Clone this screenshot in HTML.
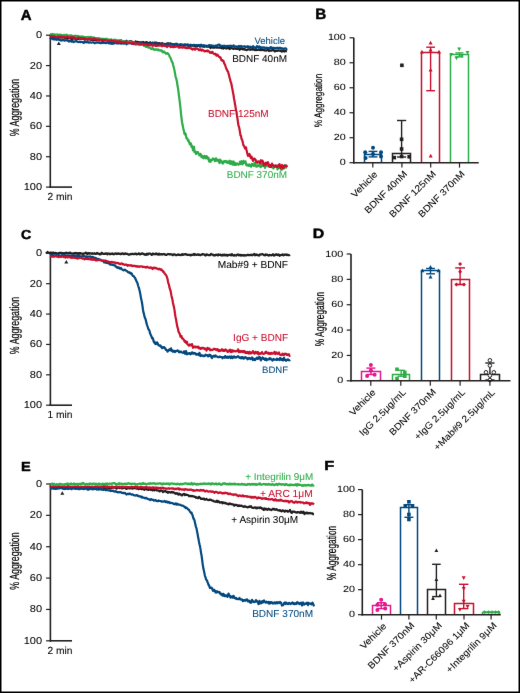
<!DOCTYPE html><html><head><meta charset="utf-8"><style>html,body{margin:0;padding:0;background:#fff;}svg{display:block;will-change:transform;}text{font-family:"Liberation Sans", sans-serif;text-rendering:geometricPrecision;}</style></head><body>
<svg width="520" height="693" viewBox="0 0 520 693">
<defs><filter id="bl" x="0" y="0" width="520" height="693" filterUnits="userSpaceOnUse" color-interpolation-filters="sRGB"><feConvolveMatrix order="3" kernelMatrix="0.00276 0.04704 0.00276 0.04704 0.80077 0.04704 0.00276 0.04704 0.00276" edgeMode="none"/></filter></defs>
<rect x="0" y="0" width="520" height="693" fill="#fff"/>
<g filter="url(#bl)">
<text transform="translate(20.8 20.3) scale(1.0179 1)" font-size="14.72" font-weight="bold" fill="#000" stroke="#000" stroke-width="0.45">A</text>
<line x1="50.3" y1="34.45" x2="50.3" y2="187.85" stroke="#231f20" stroke-width="1.6"/>
<line x1="46" y1="35.2" x2="50.3" y2="35.2" stroke="#231f20" stroke-width="1.2"/>
<text transform="translate(35.9 38.2) scale(1.100 1)" x="0" font-size="10.03" fill="#000" stroke="#000" stroke-width="0.06">0</text>
<line x1="46" y1="65.58" x2="50.3" y2="65.58" stroke="#231f20" stroke-width="1.2"/>
<text transform="translate(29.76 68.58) scale(1.100 1)" x="0" font-size="10.03" fill="#000" stroke="#000" stroke-width="0.06">20</text>
<line x1="46" y1="95.96" x2="50.3" y2="95.96" stroke="#231f20" stroke-width="1.2"/>
<text transform="translate(29.76 98.96) scale(1.100 1)" x="0" font-size="10.03" fill="#000" stroke="#000" stroke-width="0.06">40</text>
<line x1="46" y1="126.34" x2="50.3" y2="126.34" stroke="#231f20" stroke-width="1.2"/>
<text transform="translate(29.76 129.34) scale(1.100 1)" x="0" font-size="10.03" fill="#000" stroke="#000" stroke-width="0.06">60</text>
<line x1="46" y1="156.72" x2="50.3" y2="156.72" stroke="#231f20" stroke-width="1.2"/>
<text transform="translate(29.76 159.72) scale(1.100 1)" x="0" font-size="10.03" fill="#000" stroke="#000" stroke-width="0.06">80</text>
<line x1="46" y1="187.1" x2="50.3" y2="187.1" stroke="#231f20" stroke-width="1.2"/>
<text transform="translate(23.63 190.1) scale(1.100 1)" x="0" font-size="10.03" fill="#000" stroke="#000" stroke-width="0.06">100</text>
<line x1="49.5" y1="187.1" x2="72" y2="187.1" stroke="#231f20" stroke-width="1.6"/>
<text transform="translate(47.47 199.8) scale(1.0000 1)" font-size="10.23" fill="#000" stroke="#000" stroke-width="0.06">2 min</text>
<text transform="translate(19 135.95) rotate(-90) scale(0.6696 1)" x="-0.47" font-size="13.2" fill="#000" stroke="#000" stroke-width="0.2">% Aggregation</text>
<path d="M50.0 36.85 50.5 36.82 51.0 36.43 51.5 37.37 52.0 36.56 52.5 36.76 53.0 37.21 53.5 36.74 54.0 36.72 54.5 36.92 55.0 37.61 55.5 38.19 56.0 37.47 56.5 37.05 57.0 37.49 57.5 37.29 58.0 37.53 58.5 37.88 59.0 37.38 59.5 37.47 60.0 37.30 60.5 37.55 61.0 37.68 61.5 37.36 62.0 37.53 62.5 37.61 63.0 37.47 63.5 37.26 64.0 37.26 64.5 37.71 65.0 37.98 65.5 38.53 66.0 37.31 66.5 37.90 67.0 38.28 67.5 38.61 68.0 38.32 68.5 37.88 69.0 38.14 69.5 38.36 70.0 38.21 70.5 38.36 71.0 37.82 71.5 38.89 72.0 38.96 72.5 38.41 73.0 38.60 73.5 38.44 74.0 38.19 74.5 38.54 75.0 38.85 75.5 38.47 76.0 38.42 76.5 38.59 77.0 38.89 77.5 39.11 78.0 38.62 78.5 38.88 79.0 38.74 79.5 38.13 80.0 38.53 80.5 38.77 81.0 38.88 81.5 38.87 82.0 38.26 82.5 38.79 83.0 38.66 83.5 38.52 84.0 39.19 84.5 39.34 85.0 39.01 85.5 39.37 86.0 39.12 86.5 39.12 87.0 38.98 87.5 39.54 88.0 38.48 88.5 39.15 89.0 39.44 89.5 38.71 90.0 39.19 90.5 39.47 91.0 39.85 91.5 39.97 92.0 39.38 92.5 39.15 93.0 40.06 93.5 40.12 94.0 39.61 94.5 39.80 95.0 39.91 95.5 39.98 96.0 39.99 96.5 40.17 97.0 39.40 97.5 40.12 98.0 40.08 98.5 39.95 99.0 40.16 99.5 39.33 100.0 40.26 100.5 40.17 101.0 39.72 101.5 40.13 102.0 40.24 102.5 41.16 103.0 41.04 103.5 40.44 104.0 39.97 104.5 39.97 105.0 40.09 105.5 40.03 106.0 39.94 106.5 40.07 107.0 40.22 107.5 40.17 108.0 40.10 108.5 40.29 109.0 41.22 109.5 40.13 110.0 40.13 110.5 40.64 111.0 40.57 111.5 40.83 112.0 41.08 112.5 41.26 113.0 41.01 113.5 40.55 114.0 40.96 114.5 40.26 115.0 40.63 115.5 40.60 116.0 40.52 116.5 41.03 117.0 41.00 117.5 41.20 118.0 40.62 118.5 41.25 119.0 41.30 119.5 41.05 120.0 40.60 120.5 40.82 121.0 40.44 121.5 40.59 122.0 42.28 122.5 41.96 123.0 41.93 123.5 41.33 124.0 41.58 124.5 41.69 125.0 41.64 125.5 41.43 126.0 41.19 126.5 40.76 127.0 41.57 127.5 41.79 128.0 41.94 128.5 41.68 129.0 42.15 129.5 41.50 130.0 41.24 130.5 41.87 131.0 41.51 131.5 41.26 132.0 41.76 132.5 42.07 133.0 41.99 133.5 42.34 134.0 43.40 134.5 42.60 135.0 42.37 135.5 41.40 136.0 42.01 136.5 42.28 137.0 41.90 137.5 41.76 138.0 42.14 138.5 41.99 139.0 42.00 139.5 42.63 140.0 42.78 140.5 42.40 141.0 42.16 141.5 42.50 142.0 42.70 142.5 42.52 143.0 41.89 143.5 42.21 144.0 42.58 144.5 42.78 145.0 42.94 145.5 42.78 146.0 42.16 146.5 42.16 147.0 42.27 147.5 43.20 148.0 42.92 148.5 42.99 149.0 43.12 149.5 42.65 150.0 42.34 150.5 42.58 151.0 42.89 151.5 43.47 152.0 43.26 152.5 42.69 153.0 43.20 153.5 43.25 154.0 42.73 154.5 42.83 155.0 42.49 155.5 43.11 156.0 43.00 156.5 42.67 157.0 42.93 157.5 43.28 158.0 43.17 158.5 43.46 159.0 43.54 159.5 43.15 160.0 43.45 160.5 44.23 161.0 43.67 161.5 43.28 162.0 43.46 162.5 43.25 163.0 43.99 163.5 44.00 164.0 44.21 164.5 44.20 165.0 44.08 165.5 44.23 166.0 43.97 166.5 43.62 167.0 43.51 167.5 43.56 168.0 43.24 168.5 44.37 169.0 43.62 169.5 43.87 170.0 43.54 170.5 43.38 171.0 44.02 171.5 44.14 172.0 44.26 172.5 44.46 173.0 44.22 173.5 44.52 174.0 44.62 174.5 44.37 175.0 44.42 175.5 44.71 176.0 44.64 176.5 44.48 177.0 43.82 177.5 44.54 178.0 44.83 178.5 44.74 179.0 45.02 179.5 45.50 180.0 45.06 180.5 45.05 181.0 44.60 181.5 44.55 182.0 44.67 182.5 44.62 183.0 44.90 183.5 44.74 184.0 44.88 184.5 44.51 185.0 44.45 185.5 44.78 186.0 44.78 186.5 44.94 187.0 45.04 187.5 45.27 188.0 45.84 188.5 46.04 189.0 45.79 189.5 45.54 190.0 45.92 190.5 44.99 191.0 44.80 191.5 45.58 192.0 45.68 192.5 45.66 193.0 45.62 193.5 45.12 194.0 45.38 194.5 46.27 195.0 46.28 195.5 45.89 196.0 46.49 196.5 45.71 197.0 45.76 197.5 46.03 198.0 45.66 198.5 45.85 199.0 46.03 199.5 46.11 200.0 46.55 200.5 46.45 201.0 45.91 201.5 46.03 202.0 46.37 202.5 46.33 203.0 46.19 203.5 46.62 204.0 46.78 204.5 46.44 205.0 46.68 205.5 45.98 206.0 45.99 206.5 46.67 207.0 46.38 207.5 46.31 208.0 46.56 208.5 46.58 209.0 46.80 209.5 46.37 210.0 46.91 210.5 48.03 211.0 47.11 211.5 46.40 212.0 47.16 212.5 47.42 213.0 47.65 213.5 47.26 214.0 47.07 214.5 47.71 215.0 47.47 215.5 46.76 216.0 47.42 216.5 47.41 217.0 47.72 217.5 47.42 218.0 47.71 218.5 47.65 219.0 47.73 219.5 47.55 220.0 47.43 220.5 47.65 221.0 47.90 221.5 47.99 222.0 48.33 222.5 48.05 223.0 48.18 223.5 48.59 224.0 48.05 224.5 48.01 225.0 47.73 225.5 48.02 226.0 48.56 226.5 48.33 227.0 48.47 227.5 47.68 228.0 47.53 228.5 48.01 229.0 47.88 229.5 49.10 230.0 48.74 230.5 47.88 231.0 48.06 231.5 48.11 232.0 48.42 232.5 48.43 233.0 48.81 233.5 48.98 234.0 48.38 234.5 48.08 235.0 48.60 235.5 48.60 236.0 48.93 236.5 48.68 237.0 48.92 237.5 48.81 238.0 48.60 238.5 48.59 239.0 49.14 239.5 49.77 240.0 49.27 240.5 48.89 241.0 49.10 241.5 48.88 242.0 48.49 242.5 49.07 243.0 49.51 243.5 48.92 244.0 48.64 244.5 49.28 245.0 49.83 245.5 49.65 246.0 49.74 246.5 50.17 247.0 49.99 247.5 49.58 248.0 49.24 248.5 49.31 249.0 49.35 249.5 49.56 250.0 49.24 250.5 49.88 251.0 49.56 251.5 49.38 252.0 49.58 252.5 48.78 253.0 49.04 253.5 49.33 254.0 49.79 254.5 49.62 255.0 50.07 255.5 49.66 256.0 49.80 256.5 49.61 257.0 50.09 257.5 49.82 258.0 49.94 258.5 49.62 259.0 49.43 259.5 49.81 260.0 50.21 260.5 49.56 261.0 49.34 261.5 49.84 262.0 50.20 262.5 49.70 263.0 49.83 263.5 50.11 264.0 50.05 264.5 50.33 265.0 50.63 265.5 50.31 266.0 50.28 266.5 50.53 267.0 50.26 267.5 49.91 268.0 49.84 268.5 50.05 269.0 50.98 269.5 50.60 270.0 50.70 270.5 50.70 271.0 50.28 271.5 50.64 272.0 50.25 272.5 49.79 273.0 50.29 273.5 50.21 274.0 50.48 274.5 50.95 275.0 51.50 275.5 50.72 276.0 50.69 276.5 50.92 277.0 50.89 277.5 50.71 278.0 50.40 278.5 50.45 279.0 50.69 279.5 50.47 280.0 50.55 280.5 50.58 281.0 51.20 281.5 50.74 282.0 51.57 282.5 50.94 283.0 50.61 283.5 50.70 284.0 51.42 284.5 51.53 285.0 51.01 285.5 51.27 286.0 51.21 286.5 51.19 287.0 51.33" fill="none" stroke="#231f20" stroke-width="2.2" stroke-linejoin="round"/>
<path d="M50.0 39.07 50.5 38.43 51.0 38.31 51.5 38.34 52.0 38.85 52.5 38.20 53.0 39.37 53.5 38.90 54.0 39.13 54.5 39.22 55.0 39.61 55.5 38.61 56.0 39.06 56.5 39.37 57.0 39.84 57.5 39.25 58.0 39.43 58.5 39.38 59.0 39.79 59.5 40.00 60.0 39.65 60.5 40.42 61.0 40.54 61.5 40.46 62.0 40.52 62.5 40.05 63.0 40.12 63.5 39.97 64.0 40.28 64.5 40.60 65.0 40.28 65.5 40.32 66.0 40.27 66.5 40.25 67.0 40.41 67.5 40.63 68.0 40.42 68.5 41.01 69.0 41.64 69.5 41.37 70.0 40.91 70.5 40.62 71.0 40.86 71.5 41.71 72.0 41.26 72.5 40.97 73.0 41.42 73.5 42.10 74.0 41.57 74.5 41.61 75.0 41.51 75.5 41.21 76.0 40.95 76.5 41.24 77.0 41.46 77.5 41.83 78.0 42.03 78.5 42.07 79.0 41.91 79.5 41.99 80.0 41.61 80.5 42.22 81.0 42.06 81.5 41.79 82.0 42.01 82.5 41.99 83.0 42.47 83.5 42.80 84.0 42.82 84.5 41.53 85.0 41.32 85.5 41.76 86.0 42.18 86.5 42.50 87.0 42.18 87.5 41.40 88.0 41.99 88.5 42.54 89.0 42.48 89.5 42.58 90.0 42.27 90.5 42.26 91.0 42.45 91.5 42.58 92.0 42.53 92.5 42.45 93.0 42.25 93.5 42.59 94.0 42.68 94.5 43.08 95.0 43.13 95.5 42.72 96.0 42.42 96.5 42.38 97.0 42.76 97.5 42.70 98.0 42.56 98.5 42.64 99.0 42.55 99.5 42.93 100.0 42.75 100.5 43.25 101.0 43.11 101.5 42.99 102.0 42.48 102.5 42.89 103.0 43.09 103.5 42.56 104.0 42.72 104.5 42.79 105.0 42.43 105.5 43.02 106.0 43.24 106.5 42.74 107.0 42.94 107.5 42.52 108.0 42.76 108.5 42.49 109.0 43.37 109.5 43.30 110.0 43.02 110.5 42.88 111.0 43.67 111.5 43.80 112.0 42.65 112.5 43.57 113.0 43.88 113.5 43.30 114.0 42.78 114.5 43.37 115.0 43.11 115.5 42.82 116.0 42.70 116.5 43.36 117.0 43.50 117.5 43.07 118.0 43.27 118.5 42.89 119.0 43.45 119.5 43.31 120.0 43.17 120.5 43.27 121.0 43.65 121.5 43.67 122.0 43.55 122.5 43.38 123.0 43.38 123.5 43.56 124.0 43.50 124.5 43.56 125.0 43.05 125.5 42.44 126.0 43.71 126.5 44.30 127.0 43.68 127.5 43.33 128.0 43.28 128.5 43.30 129.0 43.27 129.5 42.90 130.0 43.00 130.5 42.98 131.0 43.38 131.5 43.34 132.0 43.55 132.5 43.46 133.0 43.80 133.5 43.77 134.0 44.13 134.5 42.83 135.0 43.11 135.5 43.95 136.0 44.48 136.5 43.58 137.0 43.45 137.5 43.50 138.0 43.95 138.5 43.54 139.0 43.71 139.5 43.33 140.0 43.02 140.5 43.58 141.0 43.85 141.5 44.07 142.0 43.56 142.5 43.35 143.0 43.75 143.5 43.73 144.0 43.70 144.5 43.68 145.0 44.07 145.5 44.00 146.0 44.47 146.5 44.26 147.0 43.85 147.5 43.12 148.0 43.79 148.5 43.94 149.0 44.11 149.5 44.12 150.0 43.70 150.5 43.95 151.0 43.74 151.5 44.33 152.0 43.25 152.5 42.84 153.0 42.93 153.5 43.22 154.0 43.47 154.5 44.46 155.0 43.77 155.5 43.41 156.0 44.15 156.5 43.66 157.0 43.46 157.5 44.22 158.0 44.22 158.5 43.97 159.0 44.50 159.5 44.30 160.0 44.70 160.5 44.50 161.0 44.71 161.5 44.15 162.0 43.84 162.5 44.92 163.0 44.12 163.5 43.98 164.0 43.88 164.5 44.09 165.0 44.32 165.5 44.39 166.0 44.68 166.5 45.02 167.0 44.30 167.5 43.74 168.0 43.73 168.5 43.87 169.0 43.75 169.5 44.54 170.0 44.27 170.5 44.28 171.0 44.32 171.5 43.87 172.0 44.10 172.5 44.75 173.0 44.79 173.5 44.58 174.0 45.12 174.5 44.20 175.0 44.34 175.5 44.27 176.0 43.70 176.5 45.19 177.0 44.88 177.5 44.48 178.0 45.45 178.5 45.14 179.0 44.89 179.5 44.55 180.0 44.62 180.5 44.26 181.0 44.94 181.5 44.74 182.0 44.94 182.5 45.33 183.0 45.08 183.5 45.01 184.0 44.95 184.5 44.70 185.0 45.30 185.5 45.65 186.0 45.43 186.5 45.28 187.0 44.63 187.5 44.45 188.0 44.47 188.5 45.34 189.0 45.14 189.5 45.49 190.0 44.83 190.5 44.84 191.0 45.15 191.5 45.46 192.0 45.22 192.5 45.21 193.0 45.17 193.5 45.12 194.0 44.75 194.5 45.10 195.0 45.12 195.5 45.21 196.0 45.34 196.5 45.00 197.0 45.13 197.5 45.17 198.0 45.47 198.5 45.54 199.0 45.04 199.5 45.63 200.0 46.05 200.5 44.87 201.0 44.84 201.5 44.93 202.0 45.33 202.5 45.99 203.0 45.49 203.5 45.20 204.0 45.57 204.5 45.36 205.0 45.87 205.5 45.80 206.0 45.99 206.5 45.61 207.0 46.69 207.5 46.15 208.0 45.86 208.5 45.53 209.0 45.21 209.5 45.18 210.0 45.41 210.5 45.32 211.0 45.60 211.5 45.39 212.0 45.90 212.5 46.03 213.0 45.59 213.5 46.08 214.0 45.81 214.5 46.18 215.0 46.09 215.5 46.14 216.0 45.47 216.5 45.78 217.0 46.29 217.5 45.52 218.0 44.83 218.5 44.72 219.0 44.55 219.5 44.81 220.0 45.66 220.5 46.32 221.0 45.87 221.5 46.01 222.0 45.93 222.5 45.94 223.0 45.90 223.5 45.95 224.0 46.07 224.5 45.69 225.0 46.40 225.5 46.47 226.0 46.14 226.5 46.32 227.0 45.85 227.5 45.87 228.0 46.13 228.5 46.05 229.0 45.92 229.5 45.84 230.0 46.01 230.5 46.37 231.0 45.59 231.5 46.21 232.0 46.27 232.5 46.59 233.0 46.33 233.5 45.34 234.0 46.36 234.5 46.53 235.0 46.37 235.5 46.28 236.0 46.66 236.5 46.49 237.0 47.16 237.5 47.01 238.0 47.28 238.5 46.23 239.0 45.83 239.5 46.73 240.0 46.94 240.5 46.53 241.0 45.96 241.5 46.36 242.0 46.81 242.5 46.61 243.0 46.59 243.5 46.52 244.0 46.28 244.5 46.32 245.0 46.29 245.5 47.28 246.0 46.77 246.5 46.85 247.0 46.52 247.5 46.90 248.0 46.27 248.5 47.06 249.0 47.12 249.5 47.61 250.0 46.60 250.5 46.90 251.0 47.21 251.5 47.45 252.0 46.95 252.5 46.84 253.0 46.16 253.5 46.60 254.0 47.28 254.5 47.54 255.0 47.27 255.5 48.06 256.0 48.00 256.5 47.10 257.0 46.12 257.5 46.27 258.0 46.89 258.5 47.65 259.0 47.32 259.5 46.50 260.0 47.20 260.5 47.92 261.0 47.29 261.5 47.23 262.0 48.14 262.5 47.58 263.0 47.30 263.5 47.56 264.0 47.49 264.5 47.45 265.0 48.05 265.5 48.15 266.0 47.98 266.5 47.72 267.0 48.04 267.5 47.75 268.0 47.92 268.5 48.18 269.0 48.24 269.5 48.51 270.0 47.93 270.5 47.06 271.0 47.31 271.5 48.20 272.0 47.84 272.5 47.90 273.0 47.66 273.5 48.18 274.0 47.97 274.5 48.42 275.0 47.97 275.5 48.42 276.0 48.30 276.5 47.89 277.0 48.34 277.5 47.75 278.0 47.76 278.5 48.27 279.0 47.91 279.5 47.85 280.0 47.92 280.5 47.88 281.0 48.60 281.5 48.56 282.0 48.29 282.5 48.28 283.0 48.63 283.5 49.13 284.0 48.80 284.5 48.33 285.0 48.66 285.5 48.43 286.0 48.52 286.5 49.14 287.0 48.49" fill="none" stroke="#02487f" stroke-width="2.2" stroke-linejoin="round"/>
<path d="M50.0 34.34 50.5 34.40 51.0 34.16 51.5 34.46 52.0 34.24 52.5 33.97 53.0 34.23 53.5 34.60 54.0 34.55 54.5 34.29 55.0 34.63 55.5 34.61 56.0 34.72 56.5 34.67 57.0 34.41 57.5 34.68 58.0 34.67 58.5 35.14 59.0 35.04 59.5 34.81 60.0 34.60 60.5 34.84 61.0 34.88 61.5 34.76 62.0 35.48 62.5 35.31 63.0 35.42 63.5 34.97 64.0 35.38 64.5 34.85 65.0 34.97 65.5 35.32 66.0 35.16 66.5 34.63 67.0 34.96 67.5 35.63 68.0 36.02 68.5 35.77 69.0 35.50 69.5 35.64 70.0 35.33 70.5 35.59 71.0 35.32 71.5 35.59 72.0 35.72 72.5 35.94 73.0 35.83 73.5 36.12 74.0 35.94 74.5 36.17 75.0 36.11 75.5 35.58 76.0 35.96 76.5 36.06 77.0 35.95 77.5 36.11 78.0 35.89 78.5 36.37 79.0 36.50 79.5 36.61 80.0 37.10 80.5 36.69 81.0 36.50 81.5 36.38 82.0 36.58 82.5 36.48 83.0 36.94 83.5 36.65 84.0 36.91 84.5 37.44 85.0 37.32 85.5 37.15 86.0 37.37 86.5 37.15 87.0 37.30 87.5 37.14 88.0 36.97 88.5 37.35 89.0 37.54 89.5 37.24 90.0 37.04 90.5 37.10 91.0 36.78 91.5 37.18 92.0 37.39 92.5 38.10 93.0 37.58 93.5 37.35 94.0 37.95 94.5 37.87 95.0 37.93 95.5 38.04 96.0 38.07 96.5 38.04 97.0 38.40 97.5 38.36 98.0 38.12 98.5 38.16 99.0 38.09 99.5 38.47 100.0 38.72 100.5 38.77 101.0 38.77 101.5 38.72 102.0 39.10 102.5 38.77 103.0 38.77 103.5 38.76 104.0 38.89 104.5 39.02 105.0 39.60 105.5 39.21 106.0 38.65 106.5 38.87 107.0 38.87 107.5 39.55 108.0 39.78 108.5 39.41 109.0 39.61 109.5 39.53 110.0 39.80 110.5 40.14 111.0 39.63 111.5 39.43 112.0 39.98 112.5 40.11 113.0 40.22 113.5 40.29 114.0 39.79 114.5 39.56 115.0 40.33 115.5 40.10 116.0 39.84 116.5 40.01 117.0 40.68 117.5 40.62 118.0 40.69 118.5 40.83 119.0 40.45 119.5 40.30 120.0 40.40 120.5 40.46 121.0 40.72 121.5 40.72 122.0 40.99 122.5 40.99 123.0 41.19 123.5 41.56 124.0 41.91 124.5 41.99 125.0 41.64 125.5 41.61 126.0 41.57 126.5 42.09 127.0 42.29 127.5 41.85 128.0 42.13 128.5 41.98 129.0 42.06 129.5 42.22 130.0 42.24 130.5 42.53 131.0 42.01 131.5 42.23 132.0 42.49 132.5 42.43 133.0 42.77 133.5 42.48 134.0 42.84 134.5 42.66 135.0 43.11 135.5 43.62 136.0 44.23 136.5 44.13 137.0 44.22 137.5 44.01 138.0 44.51 138.5 44.01 139.0 43.88 139.5 43.77 140.0 44.36 140.5 44.74 141.0 44.41 141.5 44.52 142.0 44.69 142.5 44.88 143.0 44.94 143.5 45.05 144.0 45.87 144.5 45.22 145.0 45.63 145.5 46.40 146.0 46.84 146.5 46.68 147.0 46.79 147.5 47.08 148.0 47.28 148.5 47.74 149.0 47.49 149.5 47.42 150.0 47.77 150.5 48.24 151.0 48.86 151.5 49.06 152.0 48.42 152.5 48.02 153.0 48.35 153.5 49.54 154.0 49.08 154.5 49.43 155.0 49.93 155.5 49.25 156.0 49.30 156.5 49.27 157.0 49.31 157.5 50.10 158.0 50.24 158.5 49.52 159.0 50.37 159.5 50.31 160.0 50.51 160.5 50.57 161.0 50.24 161.5 50.59 162.0 50.82 162.5 52.06 163.0 52.41 163.5 51.70 164.0 51.42 164.5 52.30 165.0 52.34 165.5 53.22 166.0 53.70 166.5 53.71 167.0 53.12 167.5 53.07 168.0 53.58 168.5 54.21 169.0 54.74 169.5 56.30 170.0 57.17 170.5 57.89 171.0 58.95 171.5 60.73 172.0 62.17 172.5 62.31 173.0 64.58 173.5 66.34 174.0 68.11 174.5 70.47 175.0 73.21 175.5 76.30 176.0 77.78 176.5 79.65 177.0 82.00 177.5 85.77 178.0 88.16 178.5 91.79 179.0 96.17 179.5 99.91 180.0 103.80 180.5 108.42 181.0 113.94 181.5 117.97 182.0 121.75 182.5 124.86 183.0 126.98 183.5 129.62 184.0 131.26 184.5 133.94 185.0 134.44 185.5 133.49 186.0 135.96 186.5 138.39 187.0 138.18 187.5 138.91 188.0 140.83 188.5 140.06 189.0 141.82 189.5 143.57 190.0 144.34 190.5 143.03 191.0 143.74 191.5 146.94 192.0 145.87 192.5 147.35 193.0 150.29 193.5 147.73 194.0 146.78 194.5 152.19 195.0 151.71 195.5 151.59 196.0 154.00 196.5 152.09 197.0 153.23 197.5 152.26 198.0 152.19 198.5 153.63 199.0 154.63 199.5 155.50 200.0 155.40 200.5 153.79 201.0 154.69 201.5 157.18 202.0 156.27 202.5 155.93 203.0 157.61 203.5 158.24 204.0 157.91 204.5 155.96 205.0 156.22 205.5 158.01 206.0 158.45 206.5 156.07 207.0 156.63 207.5 157.63 208.0 158.86 208.5 157.81 209.0 161.41 209.5 159.52 210.0 160.08 210.5 161.96 211.0 160.61 211.5 160.25 212.0 159.46 212.5 159.75 213.0 158.42 213.5 159.38 214.0 159.62 214.5 159.01 215.0 161.18 215.5 160.51 216.0 158.29 216.5 160.61 217.0 159.69 217.5 160.83 218.0 159.72 218.5 160.21 219.0 161.80 219.5 163.07 220.0 159.57 220.5 160.19 221.0 160.98 221.5 162.50 222.0 161.47 222.5 162.27 223.0 163.52 223.5 162.82 224.0 161.26 224.5 161.04 225.0 161.43 225.5 161.81 226.0 160.94 226.5 161.92 227.0 162.72 227.5 161.64 228.0 161.62 228.5 162.79 229.0 163.13 229.5 160.74 230.0 161.28 230.5 163.95 231.0 162.69 231.5 161.37 232.0 163.08 232.5 164.72 233.0 162.30 233.5 161.53 234.0 162.89 234.5 164.86 235.0 162.90 235.5 163.97 236.0 164.85 236.5 164.29 237.0 163.29 237.5 164.21 238.0 164.10 238.5 164.73 239.0 164.36 239.5 163.47 240.0 161.73 240.5 164.09 241.0 163.29 241.5 161.20 242.0 163.39 242.5 164.32 243.0 163.30 243.5 160.76 244.0 162.29 244.5 162.69 245.0 162.95 245.5 161.36 246.0 164.23 246.5 165.32 247.0 165.32 247.5 164.56 248.0 164.68 248.5 165.98 249.0 165.39 249.5 164.37 250.0 165.20 250.5 166.09 251.0 166.69 251.5 165.59 252.0 163.92 252.5 164.19 253.0 165.25 253.5 165.79 254.0 165.98 254.5 162.83 255.0 163.45 255.5 163.86 256.0 166.55 256.5 166.68 257.0 166.21 257.5 166.36 258.0 165.07 258.5 166.01 259.0 165.76 259.5 165.65 260.0 165.71 260.5 167.10 261.0 166.89 261.5 164.01 262.0 164.68 262.5 165.88 263.0 166.10 263.5 163.67 264.0 164.15 264.5 165.72 265.0 167.83 265.5 165.21 266.0 165.23 266.5 165.83 267.0 165.94 267.5 166.23 268.0 166.06 268.5 165.96 269.0 166.55 269.5 166.73 270.0 166.89 270.5 166.55 271.0 164.95 271.5 166.26 272.0 166.80 272.5 167.60 273.0 167.93 273.5 168.39 274.0 165.83 274.5 166.16 275.0 166.58 275.5 165.72 276.0 165.95 276.5 165.91 277.0 166.53 277.5 169.42 278.0 167.61 278.5 168.33 279.0 166.11 279.5 166.70 280.0 166.13 280.5 167.51 281.0 169.59 281.5 170.02 282.0 168.57 282.5 167.70 283.0 167.16 283.5 167.82 284.0 168.38 284.5 165.19 285.0 165.89 285.5 165.96 286.0 167.72 286.5 165.73" fill="none" stroke="#2eac48" stroke-width="2.2" stroke-linejoin="round"/>
<path d="M50.0 36.83 50.5 36.56 51.0 36.30 51.5 35.85 52.0 36.20 52.5 36.32 53.0 36.38 53.5 36.31 54.0 36.44 54.5 36.34 55.0 36.24 55.5 36.83 56.0 37.05 56.5 37.21 57.0 36.79 57.5 36.58 58.0 36.49 58.5 36.38 59.0 36.94 59.5 36.53 60.0 36.47 60.5 36.87 61.0 37.37 61.5 37.07 62.0 36.69 62.5 36.81 63.0 37.20 63.5 37.05 64.0 36.89 64.5 37.10 65.0 37.52 65.5 37.77 66.0 36.99 66.5 36.99 67.0 36.91 67.5 36.56 68.0 36.92 68.5 37.15 69.0 37.72 69.5 37.43 70.0 37.10 70.5 37.63 71.0 37.43 71.5 37.08 72.0 37.36 72.5 37.45 73.0 37.46 73.5 37.59 74.0 37.15 74.5 37.70 75.0 38.22 75.5 38.31 76.0 38.41 76.5 38.49 77.0 38.47 77.5 37.89 78.0 38.17 78.5 37.61 79.0 37.77 79.5 37.68 80.0 38.53 80.5 38.74 81.0 38.47 81.5 38.84 82.0 38.33 82.5 38.46 83.0 38.47 83.5 38.24 84.0 38.74 84.5 39.13 85.0 38.51 85.5 38.87 86.0 38.84 86.5 39.30 87.0 39.09 87.5 39.11 88.0 39.12 88.5 38.94 89.0 38.64 89.5 39.23 90.0 38.73 90.5 39.09 91.0 39.26 91.5 38.95 92.0 39.26 92.5 39.59 93.0 39.28 93.5 38.86 94.0 38.36 94.5 38.88 95.0 39.16 95.5 39.22 96.0 39.22 96.5 39.58 97.0 39.45 97.5 39.62 98.0 39.83 98.5 39.49 99.0 39.77 99.5 40.51 100.0 40.18 100.5 39.55 101.0 39.87 101.5 40.23 102.0 40.45 102.5 40.16 103.0 39.91 103.5 39.94 104.0 40.37 104.5 40.34 105.0 40.13 105.5 40.21 106.0 40.28 106.5 40.56 107.0 40.32 107.5 40.66 108.0 40.87 108.5 40.74 109.0 40.50 109.5 41.00 110.0 40.63 110.5 40.81 111.0 40.50 111.5 40.29 112.0 40.90 112.5 41.07 113.0 41.04 113.5 41.11 114.0 40.89 114.5 40.89 115.0 41.26 115.5 41.93 116.0 41.69 116.5 41.32 117.0 41.56 117.5 41.36 118.0 41.44 118.5 41.82 119.0 41.45 119.5 41.10 120.0 41.39 120.5 41.82 121.0 42.04 121.5 42.32 122.0 41.93 122.5 42.29 123.0 42.31 123.5 42.23 124.0 42.55 124.5 42.47 125.0 42.20 125.5 42.63 126.0 42.17 126.5 42.48 127.0 42.64 127.5 42.76 128.0 42.52 128.5 42.71 129.0 42.87 129.5 43.16 130.0 42.78 130.5 42.97 131.0 42.91 131.5 42.88 132.0 43.98 132.5 43.32 133.0 42.92 133.5 43.66 134.0 43.20 134.5 43.59 135.0 43.81 135.5 43.42 136.0 43.43 136.5 43.49 137.0 43.57 137.5 43.18 138.0 43.34 138.5 43.87 139.0 44.37 139.5 44.45 140.0 44.76 140.5 44.46 141.0 44.06 141.5 44.02 142.0 43.53 142.5 43.80 143.0 44.00 143.5 44.51 144.0 44.69 144.5 44.35 145.0 44.23 145.5 44.05 146.0 44.53 146.5 44.82 147.0 44.87 147.5 44.71 148.0 45.55 148.5 45.43 149.0 44.94 149.5 44.75 150.0 44.86 150.5 45.06 151.0 45.11 151.5 45.33 152.0 45.54 152.5 45.78 153.0 45.69 153.5 45.31 154.0 45.37 154.5 45.15 155.0 45.24 155.5 45.94 156.0 45.51 156.5 46.04 157.0 45.49 157.5 45.61 158.0 45.89 158.5 45.64 159.0 45.66 159.5 45.48 160.0 45.40 160.5 45.48 161.0 45.53 161.5 46.17 162.0 45.89 162.5 46.11 163.0 44.95 163.5 45.62 164.0 45.97 164.5 45.84 165.0 46.26 165.5 46.16 166.0 45.89 166.5 46.27 167.0 46.99 167.5 46.31 168.0 46.10 168.5 45.92 169.0 45.99 169.5 45.65 170.0 46.15 170.5 47.09 171.0 46.81 171.5 46.62 172.0 46.84 172.5 47.09 173.0 46.85 173.5 47.23 174.0 46.96 174.5 46.73 175.0 46.94 175.5 45.80 176.0 46.23 176.5 46.61 177.0 46.36 177.5 46.55 178.0 46.48 178.5 46.74 179.0 47.82 179.5 47.34 180.0 47.09 180.5 47.46 181.0 47.15 181.5 47.45 182.0 47.49 182.5 47.73 183.0 46.96 183.5 47.52 184.0 47.42 184.5 47.14 185.0 47.75 185.5 47.48 186.0 48.20 186.5 48.07 187.0 48.07 187.5 47.99 188.0 48.09 188.5 47.37 189.0 47.87 189.5 47.91 190.0 48.23 190.5 48.31 191.0 48.48 191.5 48.29 192.0 49.26 192.5 49.53 193.0 48.73 193.5 48.71 194.0 48.99 194.5 49.50 195.0 49.65 195.5 48.69 196.0 48.71 196.5 48.67 197.0 48.66 197.5 48.70 198.0 49.37 198.5 49.27 199.0 50.18 199.5 50.11 200.0 49.43 200.5 49.40 201.0 49.82 201.5 50.52 202.0 49.88 202.5 49.68 203.0 50.30 203.5 50.60 204.0 50.53 204.5 51.31 205.0 51.09 205.5 51.06 206.0 50.75 206.5 51.06 207.0 51.02 207.5 50.53 208.0 51.29 208.5 50.97 209.0 51.50 209.5 51.52 210.0 52.76 210.5 52.60 211.0 52.83 211.5 52.88 212.0 52.10 212.5 51.88 213.0 52.87 213.5 53.66 214.0 53.72 214.5 54.17 215.0 54.32 215.5 53.75 216.0 54.69 216.5 55.62 217.0 54.93 217.5 54.62 218.0 55.60 218.5 56.16 219.0 56.83 219.5 56.91 220.0 57.49 220.5 57.39 221.0 59.13 221.5 60.30 222.0 60.58 222.5 60.13 223.0 61.11 223.5 60.90 224.0 62.94 224.5 63.97 225.0 64.65 225.5 66.28 226.0 67.58 226.5 69.10 227.0 70.08 227.5 71.15 228.0 71.50 228.5 73.20 229.0 75.26 229.5 77.30 230.0 79.02 230.5 81.34 231.0 82.19 231.5 84.54 232.0 87.24 232.5 89.62 233.0 92.53 233.5 94.95 234.0 98.73 234.5 100.86 235.0 104.32 235.5 106.78 236.0 110.30 236.5 111.76 237.0 115.91 237.5 118.75 238.0 122.35 238.5 125.84 239.0 126.84 239.5 129.15 240.0 132.32 240.5 135.47 241.0 135.92 241.5 138.85 242.0 139.52 242.5 141.05 243.0 143.46 243.5 145.51 244.0 145.88 244.5 147.01 245.0 148.48 245.5 148.68 246.0 147.35 246.5 150.07 247.0 152.09 247.5 154.22 248.0 155.84 248.5 155.06 249.0 154.45 249.5 153.99 250.0 155.65 250.5 157.33 251.0 158.05 251.5 156.52 252.0 157.88 252.5 159.50 253.0 160.87 253.5 159.51 254.0 158.54 254.5 158.61 255.0 159.21 255.5 159.61 256.0 161.58 256.5 162.39 257.0 162.39 257.5 162.65 258.0 161.27 258.5 161.83 259.0 161.44 259.5 162.22 260.0 163.55 260.5 162.10 261.0 160.21 261.5 161.66 262.0 161.47 262.5 160.74 263.0 161.95 263.5 164.48 264.0 165.34 264.5 163.47 265.0 164.83 265.5 164.94 266.0 162.63 266.5 163.46 267.0 163.89 267.5 163.80 268.0 162.20 268.5 163.67 269.0 165.78 269.5 166.62 270.0 166.89 270.5 165.13 271.0 166.98 271.5 165.70 272.0 163.64 272.5 165.44 273.0 164.97 273.5 165.65 274.0 165.56 274.5 166.80 275.0 165.96 275.5 165.48 276.0 166.73 276.5 166.12 277.0 165.66 277.5 167.14 278.0 165.59 278.5 165.00 279.0 164.89 279.5 164.12 280.0 165.66 280.5 168.13 281.0 165.75 281.5 165.92 282.0 165.01 282.5 165.92 283.0 168.49 283.5 167.97 284.0 166.22 284.5 166.41 285.0 165.64 285.5 165.49 286.0 165.39 286.5 165.74 287.0 167.16" fill="none" stroke="#c8102e" stroke-width="2.2" stroke-linejoin="round"/>
<path d="M56.8 45 L60.8 45 L58.8 41.4 Z" fill="#231f20"/>
<text transform="translate(254.44 44.4) scale(1.0000 1)" font-size="9.51" fill="#02487f" stroke="#02487f" stroke-width="0.06">Vehicle</text>
<text transform="translate(232.16 62.2) scale(1.0000 1)" font-size="9.97" fill="#000" stroke="#000" stroke-width="0.06">BDNF 40nM</text>
<text transform="translate(207.96 116.5) scale(1.0000 1)" font-size="10.03" fill="#c8102e" stroke="#c8102e" stroke-width="0.06">BDNF 125nM</text>
<text transform="translate(226.76 177.9) scale(1.0000 1)" font-size="9.95" fill="#2eac48" stroke="#2eac48" stroke-width="0.06">BDNF 370nM</text>
<text transform="translate(315.35 19.4) scale(1.0316 1)" font-size="14.86" font-weight="bold" fill="#000" stroke="#000" stroke-width="0.45">B</text>
<text transform="translate(322 126.85) rotate(-90) scale(0.7519 1)" x="-0.39" font-size="10.91" fill="#000" stroke="#000" stroke-width="0.2">% Aggregation</text>
<path d="M364.5 162.7 V154.5 H381.5 V162.7" fill="none" stroke="#02487f" stroke-width="1.5" stroke-linejoin="miter"/>
<line x1="373" y1="151.4" x2="373" y2="156.9" stroke="#02487f" stroke-width="1.4"/>
<line x1="368.6" y1="151.4" x2="377.4" y2="151.4" stroke="#02487f" stroke-width="1.4"/>
<line x1="368.6" y1="156.9" x2="377.4" y2="156.9" stroke="#02487f" stroke-width="1.4"/>
<circle cx="373" cy="147.8" r="2.0" fill="#02487f"/>
<circle cx="365.2" cy="152.3" r="2.0" fill="#02487f"/>
<circle cx="381" cy="152.3" r="2.0" fill="#02487f"/>
<circle cx="365.6" cy="158" r="2.0" fill="#02487f"/>
<circle cx="381" cy="156.5" r="2.0" fill="#02487f"/>
<circle cx="373" cy="154" r="2.0" fill="#02487f"/>
<path d="M392.5 162.7 V153.5 H410.5 V162.7" fill="none" stroke="#231f20" stroke-width="1.5" stroke-linejoin="miter"/>
<line x1="401.6" y1="120.5" x2="401.6" y2="157" stroke="#231f20" stroke-width="1.4"/>
<line x1="397" y1="120.5" x2="406.2" y2="120.5" stroke="#231f20" stroke-width="1.4"/>
<line x1="397" y1="157" x2="406.2" y2="157" stroke="#231f20" stroke-width="1.4"/>
<rect x="400.1" y="63.5" width="3.6" height="3.6" fill="#231f20"/>
<rect x="399.8" y="137.5" width="3.6" height="3.6" fill="#231f20"/>
<rect x="399.8" y="147.2" width="3.6" height="3.6" fill="#231f20"/>
<rect x="392.5" y="155.8" width="3.6" height="3.6" fill="#231f20"/>
<rect x="407.4" y="155" width="3.6" height="3.6" fill="#231f20"/>
<rect x="399.8" y="154.7" width="3.6" height="3.6" fill="#231f20"/>
<path d="M421.5 162.7 V52.5 H439.5 V162.7" fill="none" stroke="#c8102e" stroke-width="1.5" stroke-linejoin="miter"/>
<line x1="430.6" y1="47.2" x2="430.6" y2="90.7" stroke="#c8102e" stroke-width="1.4"/>
<line x1="426.2" y1="47.2" x2="435" y2="47.2" stroke="#c8102e" stroke-width="1.4"/>
<line x1="426.2" y1="90.7" x2="435" y2="90.7" stroke="#c8102e" stroke-width="1.4"/>
<path d="M428.6 44.4 L432.6 44.4 L430.6 40.8 Z" fill="#c8102e"/>
<path d="M428.6 51.6 L432.6 51.6 L430.6 48 Z" fill="#c8102e"/>
<path d="M428.6 71.4 L432.6 71.4 L430.6 67.8 Z" fill="#c8102e"/>
<path d="M419.9 53.4 L423.9 53.4 L421.9 49.8 Z" fill="#c8102e"/>
<path d="M437 53.4 L441 53.4 L439 49.8 Z" fill="#c8102e"/>
<path d="M428.7 157.4 L432.7 157.4 L430.7 153.8 Z" fill="#c8102e"/>
<path d="M450.5 162.7 V54.5 H468.5 V162.7" fill="none" stroke="#2eac48" stroke-width="1.5" stroke-linejoin="miter"/>
<line x1="459.4" y1="52.9" x2="459.4" y2="56.9" stroke="#2eac48" stroke-width="1.4"/>
<line x1="455.4" y1="52.9" x2="463.4" y2="52.9" stroke="#2eac48" stroke-width="1.4"/>
<line x1="455.4" y1="56.9" x2="463.4" y2="56.9" stroke="#2eac48" stroke-width="1.4"/>
<path d="M457.2 47.6 L461.2 47.6 L459.2 51.2 Z" fill="#2eac48"/>
<path d="M465.5 51.1 L469.5 51.1 L467.5 54.7 Z" fill="#2eac48"/>
<path d="M449.3 53 L453.3 53 L451.3 56.6 Z" fill="#2eac48"/>
<path d="M454.5 56.6 L458.5 56.6 L456.5 60.2 Z" fill="#2eac48"/>
<path d="M459.7 54.5 L463.7 54.5 L461.7 58.1 Z" fill="#2eac48"/>
<line x1="353.8" y1="163.45" x2="353.8" y2="37.8" stroke="#231f20" stroke-width="1.6"/>
<line x1="349.5" y1="162.7" x2="353.8" y2="162.7" stroke="#231f20" stroke-width="1.2"/>
<text transform="translate(339.85 165.35) scale(1.190 1)" x="0" font-size="9.03" fill="#000" stroke="#000" stroke-width="0.06">0</text>
<line x1="349.5" y1="137.72" x2="353.8" y2="137.72" stroke="#231f20" stroke-width="1.2"/>
<text transform="translate(333.87 140.37) scale(1.190 1)" x="0" font-size="9.03" fill="#000" stroke="#000" stroke-width="0.06">20</text>
<line x1="349.5" y1="112.74" x2="353.8" y2="112.74" stroke="#231f20" stroke-width="1.2"/>
<text transform="translate(333.87 115.39) scale(1.190 1)" x="0" font-size="9.03" fill="#000" stroke="#000" stroke-width="0.06">40</text>
<line x1="349.5" y1="87.76" x2="353.8" y2="87.76" stroke="#231f20" stroke-width="1.2"/>
<text transform="translate(333.87 90.41) scale(1.190 1)" x="0" font-size="9.03" fill="#000" stroke="#000" stroke-width="0.06">60</text>
<line x1="349.5" y1="62.78" x2="353.8" y2="62.78" stroke="#231f20" stroke-width="1.2"/>
<text transform="translate(333.87 65.43) scale(1.190 1)" x="0" font-size="9.03" fill="#000" stroke="#000" stroke-width="0.06">80</text>
<line x1="349.5" y1="37.8" x2="353.8" y2="37.8" stroke="#231f20" stroke-width="1.2"/>
<text transform="translate(327.9 40.45) scale(1.190 1)" x="0" font-size="9.03" fill="#000" stroke="#000" stroke-width="0.06">100</text>
<line x1="353" y1="162.7" x2="478.7" y2="162.7" stroke="#231f20" stroke-width="1.6"/>
<line x1="372.8" y1="162.7" x2="372.8" y2="167.6" stroke="#231f20" stroke-width="1.2"/>
<line x1="401.9" y1="162.7" x2="401.9" y2="167.6" stroke="#231f20" stroke-width="1.2"/>
<line x1="430.7" y1="162.7" x2="430.7" y2="167.6" stroke="#231f20" stroke-width="1.2"/>
<line x1="459.5" y1="162.7" x2="459.5" y2="167.6" stroke="#231f20" stroke-width="1.2"/>
<text transform="translate(378.1 175) rotate(-45) scale(1.0800 1)" x="-30.41" font-size="9.4" fill="#000" stroke="#000" stroke-width="0.06">Vehicle</text>
<text transform="translate(407.2 175) rotate(-45) scale(1.0800 1)" x="-50.94" font-size="9.4" fill="#000" stroke="#000" stroke-width="0.06">BDNF 40nM</text>
<text transform="translate(436 175) rotate(-45) scale(1.0800 1)" x="-56.17" font-size="9.4" fill="#000" stroke="#000" stroke-width="0.06">BDNF 125nM</text>
<text transform="translate(464.8 175) rotate(-45) scale(1.0800 1)" x="-56.17" font-size="9.4" fill="#000" stroke="#000" stroke-width="0.06">BDNF 370nM</text>
<text transform="translate(20.99 239.1) scale(1.0826 1)" font-size="13.07" font-weight="bold" fill="#000" stroke="#000" stroke-width="0.45">C</text>
<line x1="50.4" y1="252.55" x2="50.4" y2="405.95" stroke="#231f20" stroke-width="1.6"/>
<line x1="46.1" y1="253.3" x2="50.4" y2="253.3" stroke="#231f20" stroke-width="1.2"/>
<text transform="translate(35.9 256.3) scale(1.100 1)" x="0" font-size="10.03" fill="#000" stroke="#000" stroke-width="0.06">0</text>
<line x1="46.1" y1="283.68" x2="50.4" y2="283.68" stroke="#231f20" stroke-width="1.2"/>
<text transform="translate(29.76 286.68) scale(1.100 1)" x="0" font-size="10.03" fill="#000" stroke="#000" stroke-width="0.06">20</text>
<line x1="46.1" y1="314.06" x2="50.4" y2="314.06" stroke="#231f20" stroke-width="1.2"/>
<text transform="translate(29.76 317.06) scale(1.100 1)" x="0" font-size="10.03" fill="#000" stroke="#000" stroke-width="0.06">40</text>
<line x1="46.1" y1="344.44" x2="50.4" y2="344.44" stroke="#231f20" stroke-width="1.2"/>
<text transform="translate(29.76 347.44) scale(1.100 1)" x="0" font-size="10.03" fill="#000" stroke="#000" stroke-width="0.06">60</text>
<line x1="46.1" y1="374.82" x2="50.4" y2="374.82" stroke="#231f20" stroke-width="1.2"/>
<text transform="translate(29.76 377.82) scale(1.100 1)" x="0" font-size="10.03" fill="#000" stroke="#000" stroke-width="0.06">80</text>
<line x1="46.1" y1="405.2" x2="50.4" y2="405.2" stroke="#231f20" stroke-width="1.2"/>
<text transform="translate(23.63 408.2) scale(1.100 1)" x="0" font-size="10.03" fill="#000" stroke="#000" stroke-width="0.06">100</text>
<line x1="49.6" y1="405.2" x2="72" y2="405.2" stroke="#231f20" stroke-width="1.6"/>
<text transform="translate(47.5 417.7) scale(1.0000 1)" font-size="10.22" fill="#000" stroke="#000" stroke-width="0.06">1 min</text>
<text transform="translate(19 353.85) rotate(-90) scale(0.6684 1)" x="-0.47" font-size="13.2" fill="#000" stroke="#000" stroke-width="0.2">% Aggregation</text>
<path d="M46.0 253.49 46.5 252.90 47.0 252.52 47.5 251.95 48.0 252.70 48.5 252.78 49.0 252.75 49.5 253.05 50.0 253.04 50.5 252.55 51.0 252.54 51.5 252.79 52.0 253.23 52.5 253.14 53.0 252.49 53.5 252.57 54.0 253.30 54.5 253.62 55.0 253.08 55.5 252.87 56.0 253.34 56.5 253.07 57.0 253.39 57.5 253.70 58.0 253.40 58.5 253.20 59.0 253.29 59.5 252.90 60.0 252.93 60.5 252.86 61.0 252.95 61.5 252.91 62.0 252.98 62.5 252.98 63.0 253.13 63.5 253.18 64.0 253.35 64.5 253.54 65.0 252.81 65.5 253.48 66.0 253.09 66.5 252.71 67.0 253.03 67.5 253.28 68.0 253.49 68.5 252.92 69.0 253.21 69.5 253.14 70.0 252.55 70.5 252.73 71.0 253.40 71.5 253.61 72.0 253.72 72.5 253.55 73.0 253.45 73.5 253.43 74.0 253.64 74.5 253.06 75.0 253.20 75.5 253.30 76.0 252.87 76.5 253.58 77.0 253.12 77.5 253.39 78.0 254.01 78.5 253.16 79.0 253.20 79.5 253.77 80.0 253.05 80.5 253.16 81.0 253.54 81.5 253.61 82.0 253.64 82.5 253.66 83.0 253.96 83.5 253.90 84.0 253.63 84.5 253.16 85.0 252.96 85.5 252.74 86.0 253.38 86.5 252.91 87.0 253.75 87.5 254.08 88.0 253.16 88.5 253.10 89.0 253.30 89.5 253.66 90.0 253.22 90.5 253.33 91.0 253.27 91.5 253.46 92.0 253.86 92.5 253.27 93.0 253.49 93.5 253.68 94.0 253.75 94.5 253.23 95.0 253.87 95.5 253.85 96.0 253.90 96.5 253.52 97.0 252.94 97.5 253.28 98.0 253.82 98.5 253.65 99.0 253.71 99.5 254.39 100.0 254.51 100.5 253.91 101.0 254.14 101.5 252.91 102.0 252.82 102.5 253.76 103.0 253.65 103.5 253.87 104.0 253.87 104.5 253.71 105.0 253.91 105.5 253.66 106.0 253.16 106.5 253.66 107.0 253.91 107.5 254.27 108.0 253.44 108.5 253.59 109.0 253.55 109.5 253.76 110.0 254.33 110.5 253.95 111.0 253.61 111.5 253.82 112.0 253.95 112.5 253.44 113.0 253.71 113.5 254.36 114.0 254.19 114.5 253.79 115.0 253.60 115.5 253.58 116.0 253.31 116.5 254.04 117.0 254.01 117.5 253.79 118.0 253.32 118.5 253.51 119.0 253.98 119.5 253.93 120.0 253.73 120.5 254.06 121.0 254.18 121.5 253.65 122.0 253.56 122.5 253.44 123.0 253.46 123.5 254.12 124.0 254.16 124.5 253.97 125.0 253.43 125.5 253.44 126.0 253.78 126.5 253.78 127.0 253.88 127.5 253.74 128.0 254.25 128.5 254.75 129.0 254.76 129.5 254.65 130.0 254.18 130.5 254.27 131.0 253.98 131.5 254.25 132.0 253.88 132.5 253.74 133.0 253.78 133.5 254.22 134.0 254.17 134.5 254.02 135.0 253.64 135.5 253.88 136.0 253.64 136.5 254.44 137.0 254.13 137.5 254.10 138.0 253.91 138.5 253.39 139.0 253.46 139.5 254.07 140.0 254.52 140.5 253.75 141.0 253.75 141.5 253.90 142.0 253.37 142.5 253.35 143.0 253.84 143.5 254.05 144.0 254.10 144.5 254.64 145.0 254.23 145.5 254.38 146.0 254.88 146.5 254.77 147.0 253.70 147.5 254.00 148.0 254.46 148.5 253.71 149.0 253.65 149.5 253.56 150.0 253.53 150.5 253.71 151.0 254.29 151.5 254.80 152.0 254.87 152.5 254.20 153.0 253.53 153.5 254.05 154.0 254.15 154.5 254.34 155.0 254.11 155.5 253.65 156.0 254.13 156.5 253.52 157.0 253.91 157.5 254.38 158.0 254.57 158.5 254.71 159.0 253.62 159.5 254.31 160.0 254.57 160.5 254.32 161.0 254.46 161.5 254.05 162.0 254.54 162.5 254.52 163.0 254.00 163.5 254.04 164.0 254.21 164.5 254.21 165.0 254.72 165.5 254.64 166.0 254.97 166.5 254.93 167.0 254.51 167.5 254.28 168.0 254.01 168.5 254.01 169.0 254.12 169.5 254.44 170.0 254.17 170.5 254.44 171.0 254.50 171.5 254.30 172.0 254.49 172.5 255.11 173.0 255.12 173.5 254.33 174.0 254.35 174.5 254.34 175.0 254.51 175.5 255.10 176.0 254.99 176.5 255.18 177.0 255.24 177.5 254.51 178.0 254.46 178.5 254.64 179.0 254.93 179.5 254.67 180.0 254.89 180.5 255.14 181.0 255.13 181.5 254.79 182.0 254.24 182.5 254.08 183.0 254.93 183.5 254.80 184.0 254.29 184.5 254.35 185.0 254.31 185.5 254.03 186.0 254.55 186.5 254.37 187.0 254.56 187.5 254.91 188.0 254.74 188.5 254.90 189.0 254.88 189.5 254.74 190.0 254.86 190.5 255.36 191.0 254.92 191.5 255.21 192.0 254.57 192.5 254.93 193.0 254.79 193.5 254.28 194.0 253.86 194.5 255.03 195.0 254.39 195.5 254.33 196.0 254.74 196.5 254.82 197.0 254.86 197.5 254.59 198.0 254.29 198.5 254.91 199.0 254.55 199.5 254.85 200.0 255.11 200.5 255.26 201.0 254.80 201.5 254.67 202.0 254.57 202.5 254.08 203.0 254.34 203.5 254.33 204.0 254.36 204.5 254.79 205.0 254.87 205.5 255.52 206.0 255.37 206.5 254.31 207.0 254.69 207.5 254.57 208.0 255.01 208.5 255.05 209.0 255.26 209.5 255.14 210.0 255.17 210.5 254.66 211.0 253.89 211.5 254.23 212.0 254.48 212.5 254.60 213.0 254.65 213.5 255.43 214.0 255.10 214.5 255.37 215.0 255.05 215.5 255.43 216.0 254.70 216.5 254.98 217.0 254.57 217.5 255.15 218.0 255.46 218.5 254.45 219.0 254.57 219.5 255.00 220.0 254.84 220.5 254.58 221.0 255.32 221.5 255.22 222.0 255.51 222.5 255.14 223.0 254.59 223.5 254.87 224.0 255.38 224.5 254.61 225.0 254.81 225.5 255.30 226.0 255.52 226.5 255.31 227.0 254.75 227.5 255.68 228.0 255.16 228.5 255.05 229.0 255.05 229.5 254.91 230.0 254.68 230.5 254.98 231.0 255.42 231.5 254.50 232.0 254.14 232.5 255.11 233.0 255.30 233.5 255.51 234.0 255.71 234.5 254.98 235.0 255.14 235.5 255.38 236.0 255.66 236.5 255.50 237.0 254.77 237.5 254.52 238.0 254.77 238.5 254.58 239.0 255.34 239.5 255.02 240.0 254.87 240.5 254.87 241.0 255.60 241.5 255.29 242.0 255.02 242.5 255.28 243.0 255.16 243.5 255.41 244.0 255.60 244.5 255.14 245.0 255.30 245.5 255.40 246.0 255.59 246.5 255.40 247.0 255.10 247.5 254.89 248.0 255.07 248.5 254.79 249.0 255.25 249.5 255.21 250.0 255.25 250.5 254.88 251.0 254.69 251.5 254.78 252.0 255.40 252.5 255.07 253.0 254.85 253.5 254.42 254.0 254.65 254.5 253.93 255.0 255.28 255.5 255.10 256.0 254.95 256.5 254.48 257.0 254.61 257.5 255.19 258.0 255.07 258.5 255.30 259.0 255.61 259.5 255.25 260.0 254.35 260.5 254.47 261.0 254.50 261.5 254.48 262.0 254.07 262.5 254.09 263.0 254.57 263.5 254.81 264.0 255.15 264.5 255.07 265.0 255.38 265.5 254.38 266.0 254.41 266.5 254.99 267.0 254.87 267.5 254.70 268.0 255.30 268.5 255.56 269.0 255.53 269.5 254.96 270.0 254.99 270.5 255.08 271.0 255.11 271.5 255.32 272.0 254.92 272.5 254.91 273.0 254.27 273.5 255.20 274.0 255.62 274.5 255.16 275.0 255.21 275.5 254.42 276.0 254.59 276.5 254.39 277.0 254.98 277.5 255.05 278.0 254.42 278.5 254.48 279.0 254.84 279.5 255.74 280.0 255.09 280.5 254.98 281.0 255.07 281.5 255.02 282.0 254.73 282.5 254.34 283.0 254.66 283.5 255.43 284.0 255.06 284.5 254.65 285.0 254.34 285.5 254.73 286.0 254.81 286.5 254.68 287.0 255.06 287.5 254.68 288.0 254.78 288.5 255.13 289.0 255.04 289.5 255.21 290.0 254.80" fill="none" stroke="#231f20" stroke-width="2.2" stroke-linejoin="round"/>
<path d="M50.0 255.39 50.5 255.16 51.0 255.23 51.5 254.89 52.0 255.33 52.5 254.94 53.0 255.23 53.5 255.25 54.0 255.28 54.5 256.07 55.0 255.39 55.5 255.53 56.0 255.64 56.5 255.19 57.0 255.69 57.5 255.51 58.0 255.64 58.5 255.17 59.0 255.17 59.5 255.76 60.0 255.69 60.5 255.59 61.0 255.72 61.5 255.63 62.0 255.10 62.5 254.75 63.0 254.84 63.5 254.83 64.0 254.82 64.5 255.26 65.0 255.43 65.5 255.61 66.0 255.69 66.5 255.56 67.0 255.60 67.5 255.65 68.0 255.41 68.5 255.49 69.0 255.69 69.5 255.56 70.0 255.59 70.5 255.84 71.0 256.23 71.5 256.01 72.0 255.77 72.5 255.71 73.0 255.99 73.5 256.38 74.0 255.24 74.5 255.95 75.0 256.15 75.5 256.21 76.0 255.90 76.5 256.65 77.0 256.49 77.5 256.16 78.0 256.12 78.5 255.96 79.0 256.13 79.5 256.21 80.0 256.50 80.5 256.40 81.0 256.31 81.5 256.52 82.0 256.54 82.5 256.36 83.0 256.02 83.5 256.54 84.0 256.11 84.5 256.11 85.0 256.45 85.5 256.78 86.0 256.92 86.5 256.32 87.0 257.09 87.5 257.24 88.0 256.71 88.5 256.68 89.0 256.64 89.5 256.61 90.0 256.43 90.5 256.43 91.0 256.93 91.5 257.33 92.0 257.73 92.5 257.05 93.0 256.82 93.5 257.49 94.0 257.65 94.5 257.95 95.0 257.89 95.5 257.79 96.0 258.17 96.5 258.80 97.0 258.84 97.5 258.75 98.0 259.27 98.5 258.95 99.0 259.33 99.5 259.71 100.0 259.50 100.5 259.74 101.0 260.31 101.5 260.56 102.0 260.68 102.5 260.74 103.0 260.77 103.5 261.28 104.0 262.42 104.5 261.87 105.0 262.34 105.5 262.15 106.0 262.81 106.5 263.04 107.0 262.91 107.5 262.66 108.0 262.71 108.5 263.45 109.0 263.09 109.5 263.34 110.0 264.43 110.5 264.71 111.0 264.44 111.5 264.43 112.0 264.56 112.5 265.01 113.0 264.95 113.5 264.82 114.0 265.28 114.5 265.75 115.0 265.48 115.5 265.85 116.0 266.59 116.5 267.30 117.0 267.12 117.5 267.33 118.0 267.97 118.5 267.34 119.0 267.58 119.5 268.38 120.0 268.76 120.5 268.57 121.0 267.94 121.5 269.07 122.0 269.46 122.5 269.49 123.0 269.93 123.5 270.34 124.0 270.06 124.5 269.75 125.0 269.72 125.5 270.48 126.0 270.59 126.5 270.78 127.0 270.94 127.5 271.69 128.0 272.21 128.5 272.31 129.0 272.18 129.5 273.05 130.0 273.12 130.5 272.64 131.0 273.72 131.5 273.47 132.0 274.21 132.5 275.55 133.0 276.00 133.5 276.04 134.0 276.58 134.5 277.53 135.0 277.73 135.5 279.15 136.0 280.02 136.5 281.26 137.0 282.13 137.5 283.20 138.0 285.22 138.5 286.78 139.0 288.18 139.5 290.18 140.0 292.41 140.5 295.13 141.0 298.01 141.5 300.38 142.0 302.76 142.5 306.16 143.0 309.75 143.5 312.65 144.0 314.18 144.5 316.61 145.0 318.09 145.5 318.91 146.0 321.01 146.5 323.19 147.0 324.86 147.5 326.37 148.0 327.75 148.5 329.43 149.0 329.89 149.5 330.84 150.0 333.16 150.5 334.10 151.0 335.79 151.5 336.33 152.0 338.20 152.5 337.79 153.0 338.64 153.5 340.91 154.0 342.30 154.5 341.70 155.0 343.48 155.5 344.18 156.0 343.98 156.5 343.33 157.0 342.32 157.5 342.97 158.0 344.17 158.5 345.46 159.0 345.45 159.5 345.46 160.0 345.96 160.5 345.46 161.0 346.72 161.5 346.69 162.0 348.16 162.5 347.81 163.0 347.26 163.5 347.34 164.0 347.10 164.5 348.22 165.0 347.99 165.5 348.83 166.0 349.92 166.5 349.74 167.0 350.22 167.5 351.66 168.0 350.81 168.5 350.76 169.0 349.84 169.5 349.31 170.0 350.12 170.5 349.18 171.0 348.31 171.5 350.72 172.0 350.99 172.5 350.41 173.0 351.81 173.5 351.22 174.0 350.75 174.5 350.76 175.0 352.07 175.5 351.31 176.0 351.10 176.5 351.15 177.0 350.86 177.5 350.37 178.0 350.97 178.5 351.33 179.0 352.21 179.5 351.36 180.0 352.38 180.5 351.82 181.0 351.57 181.5 352.08 182.0 352.40 182.5 352.61 183.0 352.96 183.5 352.54 184.0 351.37 184.5 352.13 185.0 353.75 185.5 352.52 186.0 351.06 186.5 352.85 187.0 354.33 187.5 354.06 188.0 353.24 188.5 353.30 189.0 353.57 189.5 353.05 190.0 353.07 190.5 354.32 191.0 353.44 191.5 353.82 192.0 352.32 192.5 352.50 193.0 352.67 193.5 353.68 194.0 353.22 194.5 353.07 195.0 353.10 195.5 354.05 196.0 354.66 196.5 353.89 197.0 354.51 197.5 354.21 198.0 353.89 198.5 354.75 199.0 355.08 199.5 352.91 200.0 354.97 200.5 356.06 201.0 355.00 201.5 355.49 202.0 355.80 202.5 355.51 203.0 355.47 203.5 356.25 204.0 356.19 204.5 355.61 205.0 355.62 205.5 354.70 206.0 355.11 206.5 355.47 207.0 355.33 207.5 355.20 208.0 356.44 208.5 356.17 209.0 356.04 209.5 354.74 210.0 355.02 210.5 355.14 211.0 355.83 211.5 357.49 212.0 358.10 212.5 356.55 213.0 356.26 213.5 355.85 214.0 355.77 214.5 356.61 215.0 355.81 215.5 355.44 216.0 356.50 216.5 356.29 217.0 356.57 217.5 356.78 218.0 357.26 218.5 357.19 219.0 357.23 219.5 356.55 220.0 356.51 220.5 356.89 221.0 356.94 221.5 357.12 222.0 357.39 222.5 358.37 223.0 357.04 223.5 357.14 224.0 357.22 224.5 357.76 225.0 356.33 225.5 356.06 226.0 357.77 226.5 357.77 227.0 357.15 227.5 356.70 228.0 357.97 228.5 357.53 229.0 356.67 229.5 356.59 230.0 356.84 230.5 358.13 231.0 357.16 231.5 356.36 232.0 356.86 232.5 358.16 233.0 357.87 233.5 356.75 234.0 356.31 234.5 356.84 235.0 357.50 235.5 357.12 236.0 357.02 236.5 357.37 237.0 356.95 237.5 356.43 238.0 356.22 238.5 356.59 239.0 357.02 239.5 357.79 240.0 357.69 240.5 357.31 241.0 358.28 241.5 357.22 242.0 358.18 242.5 357.08 243.0 357.58 243.5 358.63 244.0 358.60 244.5 357.48 245.0 357.73 245.5 357.15 246.0 357.78 246.5 358.28 247.0 358.00 247.5 359.25 248.0 358.89 248.5 358.69 249.0 357.87 249.5 358.10 250.0 358.61 250.5 359.12 251.0 358.93 251.5 358.01 252.0 357.47 252.5 357.70 253.0 360.04 253.5 359.90 254.0 359.74 254.5 358.95 255.0 360.13 255.5 359.31 256.0 358.75 256.5 358.00 257.0 357.57 257.5 358.95 258.0 358.84 258.5 358.48 259.0 357.36 259.5 356.82 260.0 357.74 260.5 359.60 261.0 360.31 261.5 358.60 262.0 358.25 262.5 357.47 263.0 357.93 263.5 358.89 264.0 358.44 264.5 359.14 265.0 359.93 265.5 358.90 266.0 358.41 266.5 360.26 267.0 359.87 267.5 359.43 268.0 359.38 268.5 359.16 269.0 359.45 269.5 358.26 270.0 358.79 270.5 358.33 271.0 359.13 271.5 359.75 272.0 359.58 272.5 360.65 273.0 359.51 273.5 358.90 274.0 359.58 274.5 359.72 275.0 359.75 275.5 359.55 276.0 359.58 276.5 359.95 277.0 358.56 277.5 359.77 278.0 359.24 278.5 359.27 279.0 359.12 279.5 360.12 280.0 358.07 280.5 358.31 281.0 359.27 281.5 359.94 282.0 358.91 282.5 360.10 283.0 360.53 283.5 358.84 284.0 357.81 284.5 359.94 285.0 359.81 285.5 359.93 286.0 360.80 286.5 360.55 287.0 359.61 287.5 359.79 288.0 359.35 288.5 360.14 289.0 360.07 289.5 360.26 290.0 359.59" fill="none" stroke="#02487f" stroke-width="2.2" stroke-linejoin="round"/>
<path d="M50.0 256.05 50.5 256.38 51.0 256.29 51.5 256.46 52.0 256.71 52.5 256.60 53.0 256.77 53.5 256.74 54.0 256.75 54.5 256.12 55.0 256.03 55.5 256.05 56.0 256.51 56.5 256.49 57.0 256.75 57.5 256.67 58.0 256.73 58.5 257.22 59.0 256.90 59.5 256.60 60.0 256.45 60.5 257.02 61.0 256.99 61.5 256.49 62.0 256.68 62.5 256.77 63.0 256.37 63.5 256.78 64.0 257.19 64.5 256.60 65.0 257.13 65.5 257.54 66.0 256.96 66.5 256.93 67.0 257.18 67.5 257.34 68.0 257.25 68.5 256.78 69.0 256.97 69.5 257.27 70.0 257.34 70.5 257.68 71.0 257.39 71.5 257.46 72.0 258.02 72.5 257.59 73.0 257.31 73.5 257.57 74.0 257.66 74.5 257.95 75.0 257.93 75.5 257.73 76.0 257.70 76.5 257.81 77.0 258.43 77.5 258.66 78.0 258.19 78.5 258.27 79.0 258.25 79.5 258.03 80.0 258.02 80.5 257.99 81.0 257.70 81.5 258.07 82.0 258.57 82.5 258.76 83.0 258.50 83.5 258.50 84.0 258.92 84.5 259.26 85.0 258.54 85.5 258.47 86.0 258.70 86.5 258.97 87.0 258.75 87.5 259.03 88.0 258.90 88.5 259.20 89.0 259.07 89.5 259.11 90.0 259.40 90.5 258.97 91.0 259.11 91.5 259.64 92.0 259.76 92.5 259.50 93.0 259.00 93.5 259.74 94.0 259.82 94.5 259.55 95.0 259.26 95.5 260.10 96.0 260.52 96.5 260.32 97.0 260.42 97.5 259.99 98.0 260.12 98.5 259.95 99.0 259.86 99.5 260.08 100.0 260.03 100.5 260.11 101.0 260.20 101.5 260.38 102.0 260.53 102.5 260.65 103.0 260.43 103.5 260.75 104.0 260.40 104.5 260.91 105.0 260.96 105.5 260.44 106.0 261.06 106.5 261.66 107.0 261.58 107.5 261.33 108.0 261.39 108.5 261.72 109.0 261.86 109.5 262.09 110.0 262.07 110.5 262.31 111.0 262.22 111.5 261.90 112.0 261.87 112.5 262.16 113.0 262.48 113.5 262.36 114.0 262.75 114.5 262.29 115.0 262.57 115.5 262.62 116.0 263.05 116.5 263.15 117.0 263.07 117.5 262.83 118.0 262.97 118.5 263.27 119.0 263.79 119.5 263.56 120.0 263.93 120.5 264.11 121.0 263.70 121.5 263.66 122.0 263.36 122.5 263.98 123.0 264.43 123.5 264.16 124.0 264.58 124.5 264.87 125.0 264.79 125.5 264.64 126.0 264.82 126.5 264.68 127.0 264.98 127.5 265.78 128.0 265.12 128.5 265.00 129.0 265.34 129.5 265.55 130.0 265.69 130.5 265.29 131.0 265.17 131.5 265.36 132.0 266.02 132.5 266.19 133.0 265.69 133.5 265.74 134.0 265.91 134.5 265.73 135.0 265.97 135.5 266.37 136.0 265.93 136.5 266.40 137.0 266.67 137.5 266.19 138.0 266.71 138.5 266.51 139.0 266.40 139.5 266.81 140.0 266.67 140.5 266.53 141.0 266.42 141.5 266.37 142.0 266.51 142.5 266.75 143.0 267.07 143.5 266.89 144.0 266.99 144.5 266.91 145.0 267.15 145.5 267.17 146.0 267.55 146.5 267.23 147.0 266.68 147.5 267.08 148.0 267.24 148.5 267.67 149.0 267.57 149.5 267.84 150.0 267.82 150.5 267.43 151.0 267.54 151.5 267.67 152.0 267.72 152.5 269.00 153.0 268.31 153.5 267.57 154.0 267.59 154.5 268.15 155.0 268.09 155.5 267.75 156.0 267.83 156.5 268.48 157.0 268.61 157.5 268.94 158.0 269.04 158.5 269.32 159.0 268.72 159.5 269.36 160.0 269.18 160.5 269.32 161.0 269.95 161.5 269.50 162.0 270.24 162.5 270.81 163.0 271.60 163.5 271.46 164.0 272.50 164.5 273.29 165.0 273.83 165.5 274.56 166.0 275.18 166.5 275.85 167.0 277.39 167.5 278.80 168.0 281.65 168.5 283.64 169.0 284.92 169.5 287.69 170.0 289.17 170.5 290.57 171.0 293.07 171.5 295.92 172.0 297.95 172.5 299.97 173.0 303.05 173.5 305.22 174.0 307.37 174.5 309.87 175.0 313.75 175.5 317.02 176.0 319.16 176.5 322.29 177.0 325.10 177.5 327.42 178.0 328.80 178.5 331.74 179.0 332.47 179.5 333.68 180.0 334.44 180.5 336.65 181.0 336.54 181.5 336.09 182.0 338.27 182.5 338.54 183.0 338.51 183.5 339.51 184.0 339.88 184.5 341.37 185.0 341.76 185.5 341.18 186.0 342.80 186.5 343.28 187.0 341.88 187.5 344.25 188.0 344.74 188.5 345.16 189.0 345.66 189.5 344.84 190.0 344.45 190.5 345.29 191.0 345.37 191.5 345.47 192.0 344.07 192.5 345.60 193.0 347.81 193.5 346.95 194.0 347.10 194.5 346.76 195.0 346.49 195.5 347.33 196.0 347.40 196.5 346.76 197.0 346.95 197.5 347.47 198.0 346.66 198.5 346.81 199.0 348.32 199.5 348.50 200.0 347.91 200.5 348.93 201.0 348.72 201.5 348.24 202.0 347.79 202.5 348.44 203.0 347.86 203.5 347.98 204.0 348.01 204.5 349.14 205.0 348.70 205.5 348.62 206.0 349.42 206.5 350.65 207.0 349.58 207.5 347.82 208.0 348.61 208.5 348.88 209.0 348.42 209.5 348.50 210.0 350.26 210.5 350.09 211.0 350.04 211.5 349.80 212.0 350.06 212.5 349.89 213.0 349.61 213.5 349.23 214.0 348.70 214.5 348.92 215.0 349.37 215.5 349.10 216.0 349.72 216.5 349.32 217.0 350.05 217.5 349.06 218.0 350.16 218.5 351.09 219.0 350.77 219.5 350.04 220.0 351.00 220.5 350.46 221.0 350.48 221.5 350.02 222.0 349.14 222.5 350.56 223.0 350.91 223.5 350.90 224.0 350.02 224.5 350.85 225.0 350.04 225.5 349.50 226.0 349.76 226.5 350.61 227.0 350.70 227.5 351.94 228.0 351.80 228.5 351.77 229.0 350.77 229.5 349.87 230.0 349.60 230.5 350.78 231.0 352.11 231.5 351.92 232.0 350.15 232.5 351.19 233.0 351.58 233.5 350.61 234.0 351.00 234.5 350.79 235.0 351.35 235.5 351.47 236.0 351.17 236.5 351.19 237.0 350.97 237.5 350.97 238.0 349.29 238.5 351.57 239.0 352.21 239.5 350.80 240.0 351.41 240.5 351.98 241.0 351.20 241.5 351.14 242.0 351.76 242.5 352.14 243.0 351.01 243.5 351.93 244.0 352.14 244.5 351.08 245.0 352.12 245.5 353.11 246.0 352.26 246.5 352.21 247.0 353.07 247.5 351.95 248.0 352.20 248.5 353.46 249.0 353.59 249.5 351.77 250.0 352.10 250.5 352.89 251.0 353.48 251.5 352.88 252.0 352.23 252.5 352.64 253.0 351.05 253.5 352.44 254.0 353.33 254.5 353.63 255.0 352.94 255.5 351.87 256.0 353.11 256.5 352.44 257.0 352.55 257.5 353.28 258.0 351.94 258.5 354.35 259.0 354.06 259.5 353.71 260.0 353.11 260.5 353.59 261.0 353.63 261.5 353.10 262.0 352.10 262.5 353.25 263.0 353.56 263.5 353.98 264.0 353.71 264.5 353.53 265.0 353.20 265.5 351.95 266.0 351.72 266.5 352.88 267.0 352.93 267.5 353.45 268.0 352.53 268.5 352.98 269.0 353.93 269.5 353.51 270.0 353.00 270.5 353.90 271.0 353.73 271.5 352.82 272.0 353.07 272.5 353.71 273.0 353.56 273.5 353.43 274.0 352.91 274.5 351.81 275.0 353.80 275.5 354.13 276.0 353.54 276.5 352.49 277.0 353.33 277.5 353.82 278.0 353.78 278.5 353.52 279.0 352.45 279.5 354.21 280.0 354.66 280.5 354.84 281.0 355.17 281.5 354.68 282.0 354.96 282.5 353.57 283.0 354.43 283.5 354.35 284.0 355.13 284.5 354.01 285.0 353.69 285.5 353.79 286.0 354.42 286.5 353.94 287.0 354.95 287.5 355.03 288.0 354.54 288.5 354.39 289.0 354.26 289.5 355.85 290.0 355.35" fill="none" stroke="#c8102e" stroke-width="2.2" stroke-linejoin="round"/>
<path d="M64.3 263.6 L68.3 263.6 L66.3 260 Z" fill="#231f20"/>
<text transform="translate(217.7 267.5) scale(1.0000 1)" font-size="10.18" fill="#000" stroke="#000" stroke-width="0.06">Mab#9 + BDNF</text>
<text transform="translate(233.1 340.75) scale(1.0000 1)" font-size="10.05" fill="#c8102e" stroke="#c8102e" stroke-width="0.06">IgG + BDNF</text>
<text transform="translate(261.99 373.25) scale(1.0000 1)" font-size="9.59" fill="#02487f" stroke="#02487f" stroke-width="0.06">BDNF</text>
<text transform="translate(312.81 238.4) scale(1.1729 1)" font-size="13.55" font-weight="bold" fill="#000" stroke="#000" stroke-width="0.45">D</text>
<text transform="translate(323.5 345.95) rotate(-90) scale(0.6572 1)" x="-0.45" font-size="12.74" fill="#000" stroke="#000" stroke-width="0.2">% Aggregation</text>
<path d="M361.5 380.8 V371.5 H380.5 V380.8" fill="none" stroke="#e5168c" stroke-width="1.5" stroke-linejoin="miter"/>
<line x1="370.9" y1="368.1" x2="370.9" y2="374.5" stroke="#e5168c" stroke-width="1.4"/>
<line x1="366.4" y1="368.1" x2="375.4" y2="368.1" stroke="#e5168c" stroke-width="1.4"/>
<line x1="366.4" y1="374.5" x2="375.4" y2="374.5" stroke="#e5168c" stroke-width="1.4"/>
<circle cx="370.9" cy="365" r="2.0" fill="#e5168c"/>
<circle cx="370.9" cy="370.5" r="2.0" fill="#e5168c"/>
<circle cx="367.1" cy="376" r="2.0" fill="#e5168c"/>
<circle cx="374.6" cy="374.8" r="2.0" fill="#e5168c"/>
<path d="M392.5 380.8 V374.5 H409.5 V380.8" fill="none" stroke="#2eac48" stroke-width="1.5" stroke-linejoin="miter"/>
<line x1="401.2" y1="370.3" x2="401.2" y2="376.2" stroke="#2eac48" stroke-width="1.4"/>
<line x1="397.6" y1="370.3" x2="404.8" y2="370.3" stroke="#2eac48" stroke-width="1.4"/>
<line x1="397.6" y1="376.2" x2="404.8" y2="376.2" stroke="#2eac48" stroke-width="1.4"/>
<rect x="395.2" y="367.5" width="3.6" height="3.6" fill="#2eac48"/>
<rect x="395.2" y="376.7" width="3.6" height="3.6" fill="#2eac48"/>
<rect x="403" y="370.5" width="3.6" height="3.6" fill="#2eac48"/>
<rect x="403" y="374.4" width="3.6" height="3.6" fill="#2eac48"/>
<path d="M421.5 380.8 V270.5 H439.5 V380.8" fill="none" stroke="#02487f" stroke-width="1.5" stroke-linejoin="miter"/>
<line x1="430.5" y1="268.5" x2="430.5" y2="273.8" stroke="#02487f" stroke-width="1.4"/>
<line x1="426.1" y1="268.5" x2="434.9" y2="268.5" stroke="#02487f" stroke-width="1.4"/>
<line x1="426.1" y1="273.8" x2="434.9" y2="273.8" stroke="#02487f" stroke-width="1.4"/>
<path d="M428.5 268.5 L432.5 268.5 L430.5 264.9 Z" fill="#02487f"/>
<path d="M428.5 278.4 L432.5 278.4 L430.5 274.8 Z" fill="#02487f"/>
<path d="M420.4 272.2 L424.4 272.2 L422.4 268.6 Z" fill="#02487f"/>
<path d="M436.5 272.2 L440.5 272.2 L438.5 268.6 Z" fill="#02487f"/>
<path d="M451.5 380.8 V279.5 H469.5 V380.8" fill="none" stroke="#c8102e" stroke-width="1.5" stroke-linejoin="miter"/>
<line x1="460.1" y1="267.9" x2="460.1" y2="284.5" stroke="#c8102e" stroke-width="1.4"/>
<line x1="455.2" y1="267.9" x2="465" y2="267.9" stroke="#c8102e" stroke-width="1.4"/>
<line x1="455.2" y1="284.5" x2="465" y2="284.5" stroke="#c8102e" stroke-width="1.4"/>
<line x1="456.4" y1="284.5" x2="463.9" y2="284.5" stroke="#c8102e" stroke-width="1.4"/>
<path d="M460.1 262.1 L462.1 264.1 L460.1 266.1 L458.1 264.1 Z" fill="#c8102e"/>
<path d="M460.1 269.8 L462.1 271.8 L460.1 273.8 L458.1 271.8 Z" fill="#c8102e"/>
<path d="M456.4 282.5 L458.4 284.5 L456.4 286.5 L454.4 284.5 Z" fill="#c8102e"/>
<path d="M464 282.5 L466 284.5 L464 286.5 L462 284.5 Z" fill="#c8102e"/>
<path d="M480.5 380.8 V374.5 H499.5 V380.8" fill="none" stroke="#231f20" stroke-width="1.5" stroke-linejoin="miter"/>
<line x1="489.9" y1="363" x2="489.9" y2="380" stroke="#231f20" stroke-width="1.4"/>
<line x1="485.3" y1="363" x2="494.5" y2="363" stroke="#231f20" stroke-width="1.4"/>
<line x1="485.3" y1="380" x2="494.5" y2="380" stroke="#231f20" stroke-width="1.4"/>
<circle cx="489.9" cy="360.3" r="1.8" fill="#fff" stroke="#231f20" stroke-width="1"/>
<circle cx="489.9" cy="365.6" r="1.8" fill="#fff" stroke="#231f20" stroke-width="1"/>
<circle cx="486" cy="372.3" r="1.8" fill="#fff" stroke="#231f20" stroke-width="1"/>
<circle cx="493.8" cy="372.3" r="1.8" fill="#fff" stroke="#231f20" stroke-width="1"/>
<circle cx="489.9" cy="375.6" r="1.8" fill="#fff" stroke="#231f20" stroke-width="1"/>
<circle cx="489.9" cy="380" r="1.8" fill="#fff" stroke="#231f20" stroke-width="1"/>
<line x1="351" y1="381.55" x2="351" y2="254" stroke="#231f20" stroke-width="1.6"/>
<line x1="346.7" y1="380.8" x2="351" y2="380.8" stroke="#231f20" stroke-width="1.2"/>
<text transform="translate(337.15 383.45) scale(1.190 1)" x="0" font-size="9.03" fill="#000" stroke="#000" stroke-width="0.06">0</text>
<line x1="346.7" y1="355.44" x2="351" y2="355.44" stroke="#231f20" stroke-width="1.2"/>
<text transform="translate(331.17 358.09) scale(1.190 1)" x="0" font-size="9.03" fill="#000" stroke="#000" stroke-width="0.06">20</text>
<line x1="346.7" y1="330.08" x2="351" y2="330.08" stroke="#231f20" stroke-width="1.2"/>
<text transform="translate(331.17 332.73) scale(1.190 1)" x="0" font-size="9.03" fill="#000" stroke="#000" stroke-width="0.06">40</text>
<line x1="346.7" y1="304.72" x2="351" y2="304.72" stroke="#231f20" stroke-width="1.2"/>
<text transform="translate(331.17 307.37) scale(1.190 1)" x="0" font-size="9.03" fill="#000" stroke="#000" stroke-width="0.06">60</text>
<line x1="346.7" y1="279.36" x2="351" y2="279.36" stroke="#231f20" stroke-width="1.2"/>
<text transform="translate(331.17 282.01) scale(1.190 1)" x="0" font-size="9.03" fill="#000" stroke="#000" stroke-width="0.06">80</text>
<line x1="346.7" y1="254" x2="351" y2="254" stroke="#231f20" stroke-width="1.2"/>
<text transform="translate(325.2 256.65) scale(1.190 1)" x="0" font-size="9.03" fill="#000" stroke="#000" stroke-width="0.06">100</text>
<line x1="350.2" y1="380.8" x2="510.5" y2="380.8" stroke="#231f20" stroke-width="1.6"/>
<line x1="370.8" y1="380.8" x2="370.8" y2="385.7" stroke="#231f20" stroke-width="1.2"/>
<line x1="400.8" y1="380.8" x2="400.8" y2="385.7" stroke="#231f20" stroke-width="1.2"/>
<line x1="430.3" y1="380.8" x2="430.3" y2="385.7" stroke="#231f20" stroke-width="1.2"/>
<line x1="460.1" y1="380.8" x2="460.1" y2="385.7" stroke="#231f20" stroke-width="1.2"/>
<line x1="489.9" y1="380.8" x2="489.9" y2="385.7" stroke="#231f20" stroke-width="1.2"/>
<text transform="translate(376.4 393) rotate(-45) scale(1.0800 1)" x="-30.41" font-size="9.4" fill="#000" stroke="#000" stroke-width="0.06">Vehicle</text>
<text transform="translate(406.4 393) rotate(-45) scale(1.0800 1)" x="-56.83" font-size="9.4" fill="#000" stroke="#000" stroke-width="0.06">IgG 2.5μg/mL</text>
<text transform="translate(435.9 393) rotate(-45) scale(1.0800 1)" x="-56.17" font-size="9.4" fill="#000" stroke="#000" stroke-width="0.06">BDNF 370nM</text>
<text transform="translate(465.7 393) rotate(-45) scale(1.0800 1)" x="-62.32" font-size="9.4" fill="#000" stroke="#000" stroke-width="0.06">+IgG 2.5μg/mL</text>
<text transform="translate(495.5 393) rotate(-45) scale(1.0800 1)" x="-75.91" font-size="9.4" fill="#000" stroke="#000" stroke-width="0.06">+Mab#9 2.5μg/mL</text>
<text transform="translate(20.9 471.2) scale(1.1198 1)" font-size="12.97" font-weight="bold" fill="#000" stroke="#000" stroke-width="0.45">E</text>
<line x1="50.4" y1="483.25" x2="50.4" y2="641.55" stroke="#231f20" stroke-width="1.6"/>
<line x1="46.1" y1="484" x2="50.4" y2="484" stroke="#231f20" stroke-width="1.2"/>
<text transform="translate(35.9 487) scale(1.100 1)" x="0" font-size="10.03" fill="#000" stroke="#000" stroke-width="0.06">0</text>
<line x1="46.1" y1="515.36" x2="50.4" y2="515.36" stroke="#231f20" stroke-width="1.2"/>
<text transform="translate(29.76 518.36) scale(1.100 1)" x="0" font-size="10.03" fill="#000" stroke="#000" stroke-width="0.06">20</text>
<line x1="46.1" y1="546.72" x2="50.4" y2="546.72" stroke="#231f20" stroke-width="1.2"/>
<text transform="translate(29.76 549.72) scale(1.100 1)" x="0" font-size="10.03" fill="#000" stroke="#000" stroke-width="0.06">40</text>
<line x1="46.1" y1="578.08" x2="50.4" y2="578.08" stroke="#231f20" stroke-width="1.2"/>
<text transform="translate(29.76 581.08) scale(1.100 1)" x="0" font-size="10.03" fill="#000" stroke="#000" stroke-width="0.06">60</text>
<line x1="46.1" y1="609.44" x2="50.4" y2="609.44" stroke="#231f20" stroke-width="1.2"/>
<text transform="translate(29.76 612.44) scale(1.100 1)" x="0" font-size="10.03" fill="#000" stroke="#000" stroke-width="0.06">80</text>
<line x1="46.1" y1="640.8" x2="50.4" y2="640.8" stroke="#231f20" stroke-width="1.2"/>
<text transform="translate(23.63 643.8) scale(1.100 1)" x="0" font-size="10.03" fill="#000" stroke="#000" stroke-width="0.06">100</text>
<line x1="49.6" y1="640.8" x2="72" y2="640.8" stroke="#231f20" stroke-width="1.6"/>
<text transform="translate(47.47 653.7) scale(1.0000 1)" font-size="10.23" fill="#000" stroke="#000" stroke-width="0.06">2 min</text>
<text transform="translate(19 589.35) rotate(-90) scale(0.6684 1)" x="-0.47" font-size="13.2" fill="#000" stroke="#000" stroke-width="0.2">% Aggregation</text>
<path d="M50.0 487.37 50.5 487.11 51.0 487.73 51.5 487.46 52.0 487.26 52.5 487.21 53.0 487.65 53.5 487.26 54.0 487.59 54.5 487.37 55.0 487.46 55.5 487.47 56.0 487.72 56.5 487.71 57.0 487.29 57.5 487.81 58.0 487.88 58.5 487.99 59.0 487.95 59.5 487.26 60.0 487.88 60.5 487.08 61.0 487.22 61.5 487.64 62.0 487.90 62.5 487.80 63.0 487.70 63.5 487.64 64.0 487.21 64.5 487.62 65.0 488.13 65.5 486.88 66.0 487.27 66.5 487.41 67.0 487.22 67.5 487.42 68.0 487.53 68.5 487.44 69.0 487.41 69.5 487.22 70.0 487.60 70.5 487.29 71.0 487.28 71.5 488.08 72.0 487.46 72.5 487.21 73.0 486.92 73.5 487.46 74.0 487.18 74.5 487.30 75.0 487.76 75.5 487.71 76.0 487.38 76.5 487.70 77.0 487.71 77.5 487.47 78.0 487.27 78.5 487.54 79.0 487.13 79.5 487.58 80.0 487.50 80.5 487.10 81.0 487.31 81.5 488.15 82.0 487.10 82.5 487.44 83.0 487.51 83.5 487.73 84.0 487.78 84.5 487.95 85.0 487.88 85.5 487.54 86.0 487.13 86.5 487.44 87.0 487.77 87.5 487.87 88.0 487.98 88.5 487.54 89.0 487.17 89.5 487.36 90.0 487.71 90.5 488.00 91.0 488.04 91.5 487.84 92.0 487.24 92.5 487.43 93.0 487.78 93.5 487.82 94.0 487.83 94.5 487.34 95.0 487.55 95.5 486.77 96.0 487.30 96.5 487.60 97.0 487.59 97.5 487.88 98.0 487.64 98.5 487.69 99.0 487.81 99.5 487.53 100.0 488.03 100.5 487.60 101.0 487.83 101.5 487.75 102.0 487.56 102.5 487.70 103.0 487.75 103.5 487.71 104.0 488.28 104.5 487.52 105.0 487.70 105.5 488.09 106.0 488.01 106.5 487.98 107.0 487.28 107.5 487.54 108.0 487.80 108.5 488.07 109.0 487.55 109.5 487.78 110.0 488.35 110.5 488.02 111.0 487.90 111.5 487.84 112.0 488.00 112.5 487.19 113.0 487.34 113.5 487.54 114.0 487.77 114.5 487.64 115.0 487.11 115.5 487.62 116.0 487.72 116.5 488.61 117.0 487.97 117.5 488.08 118.0 487.69 118.5 487.64 119.0 487.59 119.5 488.12 120.0 488.22 120.5 487.56 121.0 487.97 121.5 488.22 122.0 488.31 122.5 487.90 123.0 488.25 123.5 487.65 124.0 487.89 124.5 487.78 125.0 487.90 125.5 488.32 126.0 488.40 126.5 488.92 127.0 488.10 127.5 487.82 128.0 488.33 128.5 488.13 129.0 487.98 129.5 488.51 130.0 488.49 130.5 487.66 131.0 487.94 131.5 488.40 132.0 488.07 132.5 488.62 133.0 488.27 133.5 488.33 134.0 488.23 134.5 487.90 135.0 488.10 135.5 488.05 136.0 488.23 136.5 488.74 137.0 488.68 137.5 488.44 138.0 488.66 138.5 489.03 139.0 488.63 139.5 488.52 140.0 488.81 140.5 488.47 141.0 488.42 141.5 489.21 142.0 488.59 142.5 488.86 143.0 489.04 143.5 489.01 144.0 489.73 144.5 489.84 145.0 489.27 145.5 488.71 146.0 489.10 146.5 488.75 147.0 489.42 147.5 489.70 148.0 489.66 148.5 489.91 149.0 489.60 149.5 489.24 150.0 489.48 150.5 489.84 151.0 489.08 151.5 489.59 152.0 489.55 152.5 490.41 153.0 489.38 153.5 489.13 154.0 490.19 154.5 490.33 155.0 489.87 155.5 489.90 156.0 489.67 156.5 490.10 157.0 490.54 157.5 490.47 158.0 490.32 158.5 490.30 159.0 490.96 159.5 491.37 160.0 491.17 160.5 490.40 161.0 490.71 161.5 490.58 162.0 490.80 162.5 491.34 163.0 492.08 163.5 491.48 164.0 491.24 164.5 491.20 165.0 491.45 165.5 491.01 166.0 491.75 166.5 491.93 167.0 491.58 167.5 492.46 168.0 492.74 168.5 491.93 169.0 492.23 169.5 491.98 170.0 492.00 170.5 492.57 171.0 492.48 171.5 491.94 172.0 491.95 172.5 492.50 173.0 492.16 173.5 492.25 174.0 492.69 174.5 492.85 175.0 493.35 175.5 493.83 176.0 493.10 176.5 493.71 177.0 493.10 177.5 493.56 178.0 494.23 178.5 494.56 179.0 493.56 179.5 494.42 180.0 494.15 180.5 494.23 181.0 494.58 181.5 495.24 182.0 495.47 182.5 494.80 183.0 494.36 183.5 494.20 184.0 493.81 184.5 494.22 185.0 495.10 185.5 494.42 186.0 494.52 186.5 494.88 187.0 494.96 187.5 494.97 188.0 495.04 188.5 495.44 189.0 496.27 189.5 496.22 190.0 495.99 190.5 495.80 191.0 496.16 191.5 496.30 192.0 495.97 192.5 495.99 193.0 496.51 193.5 496.36 194.0 496.43 194.5 496.80 195.0 496.88 195.5 496.85 196.0 497.75 196.5 497.54 197.0 497.44 197.5 497.91 198.0 498.23 198.5 497.67 199.0 496.80 199.5 497.30 200.0 497.97 200.5 498.35 201.0 498.89 201.5 498.70 202.0 498.53 202.5 498.88 203.0 498.66 203.5 499.05 204.0 498.58 204.5 499.53 205.0 499.32 205.5 499.59 206.0 499.26 206.5 498.93 207.0 499.41 207.5 499.73 208.0 499.92 208.5 500.02 209.0 500.14 209.5 499.80 210.0 499.48 210.5 499.89 211.0 499.82 211.5 500.30 212.0 500.48 212.5 500.66 213.0 500.65 213.5 501.15 214.0 501.34 214.5 501.45 215.0 501.47 215.5 501.70 216.0 501.83 216.5 501.42 217.0 500.68 217.5 501.39 218.0 502.18 218.5 501.17 219.0 501.79 219.5 501.97 220.0 502.73 220.5 502.52 221.0 502.29 221.5 502.29 222.0 502.05 222.5 503.35 223.0 503.11 223.5 502.48 224.0 502.66 224.5 503.13 225.0 502.81 225.5 502.88 226.0 503.55 226.5 503.44 227.0 503.70 227.5 503.90 228.0 503.54 228.5 504.38 229.0 504.26 229.5 503.48 230.0 503.42 230.5 504.07 231.0 504.27 231.5 503.99 232.0 504.18 232.5 504.31 233.0 504.41 233.5 504.88 234.0 505.52 234.5 505.62 235.0 504.72 235.5 504.82 236.0 504.80 236.5 505.02 237.0 505.16 237.5 505.89 238.0 505.82 238.5 505.41 239.0 505.96 239.5 505.45 240.0 505.72 240.5 505.97 241.0 505.66 241.5 505.59 242.0 506.11 242.5 506.38 243.0 506.28 243.5 506.96 244.0 506.65 244.5 506.23 245.0 506.62 245.5 506.44 246.0 506.75 246.5 506.96 247.0 507.08 247.5 507.44 248.0 507.07 248.5 507.07 249.0 506.73 249.5 506.30 250.0 506.70 250.5 506.89 251.0 506.16 251.5 507.18 252.0 507.59 252.5 507.89 253.0 507.78 253.5 507.98 254.0 507.60 254.5 507.47 255.0 507.75 255.5 507.46 256.0 508.14 256.5 507.60 257.0 508.34 257.5 507.80 258.0 507.66 258.5 507.56 259.0 507.94 259.5 508.07 260.0 507.46 260.5 507.41 261.0 508.03 261.5 507.82 262.0 508.68 262.5 509.00 263.0 508.73 263.5 509.91 264.0 508.85 264.5 508.44 265.0 509.51 265.5 509.15 266.0 508.71 266.5 509.01 267.0 509.74 267.5 509.87 268.0 509.16 268.5 508.67 269.0 508.97 269.5 509.54 270.0 509.46 270.5 509.58 271.0 509.78 271.5 510.18 272.0 509.56 272.5 509.34 273.0 508.75 273.5 509.31 274.0 508.95 274.5 509.35 275.0 509.79 275.5 509.68 276.0 509.68 276.5 509.04 277.0 509.74 277.5 510.19 278.0 510.27 278.5 510.38 279.0 510.12 279.5 510.54 280.0 510.22 280.5 510.40 281.0 511.07 281.5 511.37 282.0 511.03 282.5 510.26 283.0 510.46 283.5 510.57 284.0 510.99 284.5 511.71 285.0 511.49 285.5 510.63 286.0 511.12 286.5 511.20 287.0 510.87 287.5 511.10 288.0 511.72 288.5 511.35 289.0 511.25 289.5 510.90 290.0 509.98 290.5 511.34 291.0 512.17 291.5 512.82 292.0 512.80 292.5 511.52 293.0 511.63 293.5 511.62 294.0 511.86 294.5 511.52 295.0 512.06 295.5 512.39 296.0 512.44 296.5 512.44 297.0 512.63 297.5 512.17 298.0 512.05 298.5 512.21 299.0 512.25 299.5 512.63 300.0 512.92 300.5 512.37 301.0 511.61 301.5 511.72 302.0 512.70 302.5 513.01 303.0 512.75 303.5 511.72 304.0 513.15 304.5 514.11 305.0 513.11 305.5 512.93 306.0 513.37 306.5 512.70 307.0 512.64 307.5 513.43 308.0 512.90 308.5 513.34 309.0 513.02 309.5 512.99 310.0 512.93 310.5 513.48 311.0 513.39 311.5 513.31 312.0 513.20 312.5 513.31 313.0 514.06 313.5 514.15 314.0 514.13" fill="none" stroke="#231f20" stroke-width="2.2" stroke-linejoin="round"/>
<path d="M50.0 486.91 50.5 486.70 51.0 486.52 51.5 486.99 52.0 486.91 52.5 486.39 53.0 486.44 53.5 486.23 54.0 486.33 54.5 487.15 55.0 486.76 55.5 486.91 56.0 486.85 56.5 486.67 57.0 486.31 57.5 486.35 58.0 486.85 58.5 486.97 59.0 486.14 59.5 486.27 60.0 486.65 60.5 487.06 61.0 487.00 61.5 487.02 62.0 486.78 62.5 486.42 63.0 486.69 63.5 487.11 64.0 486.77 64.5 486.44 65.0 487.11 65.5 487.01 66.0 487.11 66.5 487.35 67.0 486.63 67.5 486.30 68.0 485.90 68.5 486.64 69.0 486.92 69.5 486.76 70.0 486.79 70.5 487.05 71.0 486.95 71.5 486.89 72.0 486.74 72.5 486.79 73.0 487.06 73.5 486.75 74.0 486.56 74.5 486.53 75.0 486.68 75.5 486.83 76.0 486.93 76.5 486.80 77.0 486.54 77.5 486.26 78.0 486.77 78.5 486.47 79.0 486.72 79.5 487.14 80.0 486.87 80.5 486.57 81.0 486.92 81.5 486.70 82.0 486.68 82.5 487.18 83.0 487.29 83.5 487.76 84.0 486.66 84.5 486.74 85.0 487.01 85.5 487.22 86.0 486.91 86.5 487.29 87.0 486.91 87.5 486.58 88.0 486.71 88.5 486.78 89.0 486.73 89.5 486.61 90.0 486.78 90.5 487.18 91.0 487.31 91.5 487.44 92.0 486.63 92.5 486.60 93.0 487.47 93.5 487.14 94.0 486.95 94.5 486.64 95.0 486.93 95.5 486.91 96.0 486.96 96.5 487.19 97.0 486.71 97.5 486.75 98.0 486.36 98.5 486.82 99.0 486.68 99.5 487.28 100.0 486.69 100.5 487.25 101.0 486.62 101.5 486.34 102.0 486.87 102.5 486.92 103.0 486.53 103.5 486.28 104.0 486.04 104.5 486.66 105.0 486.86 105.5 486.31 106.0 486.93 106.5 487.32 107.0 486.52 107.5 487.03 108.0 487.11 108.5 486.80 109.0 486.93 109.5 486.65 110.0 487.13 110.5 487.47 111.0 486.92 111.5 486.61 112.0 486.42 112.5 487.56 113.0 487.66 113.5 486.96 114.0 486.97 114.5 487.06 115.0 487.31 115.5 486.64 116.0 486.96 116.5 486.39 117.0 487.02 117.5 486.92 118.0 487.42 118.5 487.25 119.0 486.83 119.5 486.68 120.0 486.73 120.5 487.57 121.0 487.46 121.5 486.85 122.0 486.63 122.5 487.14 123.0 487.08 123.5 486.93 124.0 487.13 124.5 487.31 125.0 487.17 125.5 487.30 126.0 487.16 126.5 487.16 127.0 487.02 127.5 487.35 128.0 487.21 128.5 487.06 129.0 487.16 129.5 487.07 130.0 487.11 130.5 487.37 131.0 487.36 131.5 486.70 132.0 487.01 132.5 487.11 133.0 486.86 133.5 487.24 134.0 487.11 134.5 486.89 135.0 486.51 135.5 486.64 136.0 487.27 136.5 487.77 137.0 487.08 137.5 486.63 138.0 487.51 138.5 487.47 139.0 487.60 139.5 487.20 140.0 487.53 140.5 487.36 141.0 486.89 141.5 487.10 142.0 487.25 142.5 487.11 143.0 487.60 143.5 487.33 144.0 487.57 144.5 487.37 145.0 487.58 145.5 487.46 146.0 486.79 146.5 487.23 147.0 487.60 147.5 487.47 148.0 487.99 148.5 487.92 149.0 487.33 149.5 487.54 150.0 487.66 150.5 487.47 151.0 488.10 151.5 487.96 152.0 487.63 152.5 487.32 153.0 487.27 153.5 487.43 154.0 487.84 154.5 487.56 155.0 488.13 155.5 488.49 156.0 487.48 156.5 487.60 157.0 488.18 157.5 487.99 158.0 487.64 158.5 487.85 159.0 487.99 159.5 488.16 160.0 487.77 160.5 487.89 161.0 488.04 161.5 488.19 162.0 487.99 162.5 487.58 163.0 487.75 163.5 488.49 164.0 488.19 164.5 488.29 165.0 488.36 165.5 488.57 166.0 488.85 166.5 488.57 167.0 488.74 167.5 488.71 168.0 488.55 168.5 488.17 169.0 488.41 169.5 488.85 170.0 488.57 170.5 488.50 171.0 488.49 171.5 488.25 172.0 488.41 172.5 488.72 173.0 488.44 173.5 488.41 174.0 489.07 174.5 489.20 175.0 488.89 175.5 488.69 176.0 489.26 176.5 489.11 177.0 488.49 177.5 488.55 178.0 488.41 178.5 488.44 179.0 489.52 179.5 489.59 180.0 488.65 180.5 489.25 181.0 489.27 181.5 489.42 182.0 489.66 182.5 489.68 183.0 489.40 183.5 489.27 184.0 489.73 184.5 490.01 185.0 489.15 185.5 489.18 186.0 489.39 186.5 489.28 187.0 489.50 187.5 489.96 188.0 489.88 188.5 489.70 189.0 489.69 189.5 489.61 190.0 489.99 190.5 489.68 191.0 489.47 191.5 489.68 192.0 490.03 192.5 490.49 193.0 490.10 193.5 490.08 194.0 490.79 194.5 490.39 195.0 490.65 195.5 490.52 196.0 490.44 196.5 490.00 197.0 490.35 197.5 490.16 198.0 490.03 198.5 490.48 199.0 490.46 199.5 490.62 200.0 490.74 200.5 489.95 201.0 490.46 201.5 490.05 202.0 490.03 202.5 490.58 203.0 490.46 203.5 490.02 204.0 490.67 204.5 491.04 205.0 491.44 205.5 491.41 206.0 490.98 206.5 490.54 207.0 490.98 207.5 491.35 208.0 491.54 208.5 491.64 209.0 491.47 209.5 491.48 210.0 491.25 210.5 491.36 211.0 491.75 211.5 491.84 212.0 491.26 212.5 491.43 213.0 491.68 213.5 492.00 214.0 492.09 214.5 492.76 215.0 492.17 215.5 491.80 216.0 491.95 216.5 491.96 217.0 492.16 217.5 492.49 218.0 492.97 218.5 493.03 219.0 492.69 219.5 492.26 220.0 492.63 220.5 492.43 221.0 492.67 221.5 492.94 222.0 493.04 222.5 493.64 223.0 493.13 223.5 492.93 224.0 493.09 224.5 493.38 225.0 492.74 225.5 492.97 226.0 492.96 226.5 493.15 227.0 492.88 227.5 493.42 228.0 493.89 228.5 493.61 229.0 494.06 229.5 493.69 230.0 493.73 230.5 493.63 231.0 494.21 231.5 494.37 232.0 494.38 232.5 494.59 233.0 494.42 233.5 495.07 234.0 494.68 234.5 494.34 235.0 494.55 235.5 494.67 236.0 494.38 236.5 494.63 237.0 495.58 237.5 495.52 238.0 495.80 238.5 496.28 239.0 495.77 239.5 495.33 240.0 495.76 240.5 495.55 241.0 496.13 241.5 496.21 242.0 496.27 242.5 495.60 243.0 495.36 243.5 496.13 244.0 496.46 244.5 496.28 245.0 496.14 245.5 496.18 246.0 496.30 246.5 496.57 247.0 496.08 247.5 496.47 248.0 496.89 248.5 496.76 249.0 496.61 249.5 496.72 250.0 497.12 250.5 497.19 251.0 496.75 251.5 497.83 252.0 497.49 252.5 497.19 253.0 496.86 253.5 497.08 254.0 497.69 254.5 497.56 255.0 496.84 255.5 497.11 256.0 497.45 256.5 497.49 257.0 498.46 257.5 498.36 258.0 497.70 258.5 497.36 259.0 497.91 259.5 497.91 260.0 497.84 260.5 497.78 261.0 498.40 261.5 498.43 262.0 498.84 262.5 498.78 263.0 498.40 263.5 498.51 264.0 498.38 264.5 498.57 265.0 498.42 265.5 498.78 266.0 498.13 266.5 498.85 267.0 499.02 267.5 499.20 268.0 498.79 268.5 499.16 269.0 499.42 269.5 499.27 270.0 499.35 270.5 499.33 271.0 499.22 271.5 499.15 272.0 498.97 272.5 499.57 273.0 499.80 273.5 500.23 274.0 499.72 274.5 500.43 275.0 500.24 275.5 499.19 276.0 499.91 276.5 500.55 277.0 500.27 277.5 500.52 278.0 500.59 278.5 500.12 279.0 500.44 279.5 500.49 280.0 500.72 280.5 499.68 281.0 500.14 281.5 500.16 282.0 500.56 282.5 500.89 283.0 500.90 283.5 500.90 284.0 501.15 284.5 500.80 285.0 501.28 285.5 501.06 286.0 500.67 286.5 501.18 287.0 501.37 287.5 501.24 288.0 500.88 288.5 501.44 289.0 502.36 289.5 502.29 290.0 501.33 290.5 501.40 291.0 501.31 291.5 500.98 292.0 501.05 292.5 501.71 293.0 502.37 293.5 502.44 294.0 502.64 294.5 502.77 295.0 501.93 295.5 501.82 296.0 501.49 296.5 501.96 297.0 502.44 297.5 502.65 298.0 501.93 298.5 502.01 299.0 502.27 299.5 502.23 300.0 501.93 300.5 502.62 301.0 502.48 301.5 502.43 302.0 502.40 302.5 502.59 303.0 502.55 303.5 502.85 304.0 503.36 304.5 503.06 305.0 503.16 305.5 502.98 306.0 502.39 306.5 502.35 307.0 503.18 307.5 502.97 308.0 503.08 308.5 502.93 309.0 502.93 309.5 504.07 310.0 504.76 310.5 504.18 311.0 503.16 311.5 503.36 312.0 503.65 312.5 503.27 313.0 503.60 313.5 504.05 314.0 504.59" fill="none" stroke="#c8102e" stroke-width="2.2" stroke-linejoin="round"/>
<path d="M50.0 488.48 50.5 488.53 51.0 488.71 51.5 488.26 52.0 488.53 52.5 488.05 53.0 488.33 53.5 488.49 54.0 488.80 54.5 488.53 55.0 488.42 55.5 488.95 56.0 489.00 56.5 488.45 57.0 488.64 57.5 488.44 58.0 488.55 58.5 488.52 59.0 488.18 59.5 488.40 60.0 488.17 60.5 488.15 61.0 488.22 61.5 487.86 62.0 488.01 62.5 488.55 63.0 488.78 63.5 488.79 64.0 488.50 64.5 488.81 65.0 489.10 65.5 488.89 66.0 488.13 66.5 488.01 67.0 488.64 67.5 488.94 68.0 488.69 68.5 488.85 69.0 488.72 69.5 488.68 70.0 488.70 70.5 488.64 71.0 488.60 71.5 489.15 72.0 488.94 72.5 488.49 73.0 488.44 73.5 488.34 74.0 488.61 74.5 488.24 75.0 488.50 75.5 488.87 76.0 488.88 76.5 488.78 77.0 488.41 77.5 488.80 78.0 488.76 78.5 489.03 79.0 488.79 79.5 489.17 80.0 488.96 80.5 488.92 81.0 488.62 81.5 488.56 82.0 488.66 82.5 488.97 83.0 488.67 83.5 488.76 84.0 489.11 84.5 488.97 85.0 488.75 85.5 488.76 86.0 488.32 86.5 488.32 87.0 489.01 87.5 489.74 88.0 489.71 88.5 489.70 89.0 489.13 89.5 488.81 90.0 489.06 90.5 488.43 91.0 488.03 91.5 488.91 92.0 489.27 92.5 489.27 93.0 489.45 93.5 489.27 94.0 489.03 94.5 488.68 95.0 488.80 95.5 488.62 96.0 488.93 96.5 489.54 97.0 489.22 97.5 489.13 98.0 489.07 98.5 489.69 99.0 488.70 99.5 488.88 100.0 489.42 100.5 489.11 101.0 489.13 101.5 489.57 102.0 489.78 102.5 489.75 103.0 489.48 103.5 489.80 104.0 489.43 104.5 489.47 105.0 489.62 105.5 490.04 106.0 489.97 106.5 489.90 107.0 490.16 107.5 490.04 108.0 490.22 108.5 490.37 109.0 490.36 109.5 490.29 110.0 490.41 110.5 490.96 111.0 490.41 111.5 490.91 112.0 490.81 112.5 490.78 113.0 490.65 113.5 491.14 114.0 491.27 114.5 491.68 115.0 491.35 115.5 491.16 116.0 491.31 116.5 491.99 117.0 492.03 117.5 491.94 118.0 492.47 118.5 492.23 119.0 492.10 119.5 492.28 120.0 492.01 120.5 492.27 121.0 492.17 121.5 492.69 122.0 492.85 122.5 492.79 123.0 493.07 123.5 492.78 124.0 493.08 124.5 492.98 125.0 492.84 125.5 493.48 126.0 494.09 126.5 494.48 127.0 493.78 127.5 493.88 128.0 494.19 128.5 493.69 129.0 494.19 129.5 493.52 130.0 493.62 130.5 494.03 131.0 494.24 131.5 494.62 132.0 494.26 132.5 494.51 133.0 494.66 133.5 494.95 134.0 495.27 134.5 495.49 135.0 495.45 135.5 495.54 136.0 495.46 136.5 495.05 137.0 495.14 137.5 495.83 138.0 495.60 138.5 495.88 139.0 496.34 139.5 496.34 140.0 496.29 140.5 496.43 141.0 496.96 141.5 497.41 142.0 496.73 142.5 497.20 143.0 497.78 143.5 497.72 144.0 497.58 144.5 497.88 145.0 498.23 145.5 498.40 146.0 497.78 146.5 498.05 147.0 498.61 147.5 498.85 148.0 498.94 148.5 499.14 149.0 499.40 149.5 499.56 150.0 500.11 150.5 499.32 151.0 499.23 151.5 499.14 152.0 499.81 152.5 499.91 153.0 499.78 153.5 499.74 154.0 500.69 154.5 500.51 155.0 500.47 155.5 499.97 156.0 500.48 156.5 500.82 157.0 501.25 157.5 501.07 158.0 501.04 158.5 500.36 159.0 500.72 159.5 500.98 160.0 501.00 160.5 501.00 161.0 501.16 161.5 501.66 162.0 501.35 162.5 501.69 163.0 501.76 163.5 501.51 164.0 501.49 164.5 500.88 165.0 501.50 165.5 502.16 166.0 501.67 166.5 501.36 167.0 502.21 167.5 501.94 168.0 502.66 168.5 502.38 169.0 501.97 169.5 502.35 170.0 503.17 170.5 502.94 171.0 502.86 171.5 503.00 172.0 502.98 172.5 502.99 173.0 503.58 173.5 503.98 174.0 503.79 174.5 504.29 175.0 504.16 175.5 503.48 176.0 504.23 176.5 504.50 177.0 503.59 177.5 504.06 178.0 504.56 178.5 504.36 179.0 504.69 179.5 504.74 180.0 504.70 180.5 505.07 181.0 505.22 181.5 505.50 182.0 505.66 182.5 505.61 183.0 505.73 183.5 506.08 184.0 506.60 184.5 506.56 185.0 507.37 185.5 507.21 186.0 508.18 186.5 507.92 187.0 508.03 187.5 508.47 188.0 509.27 188.5 509.64 189.0 509.82 189.5 510.75 190.0 511.55 190.5 512.22 191.0 513.02 191.5 512.56 192.0 513.97 192.5 515.15 193.0 516.92 193.5 518.71 194.0 519.00 194.5 520.61 195.0 522.75 195.5 525.15 196.0 527.02 196.5 528.35 197.0 531.12 197.5 533.50 198.0 536.57 198.5 539.06 199.0 541.92 199.5 544.27 200.0 546.35 200.5 549.09 201.0 552.61 201.5 555.18 202.0 558.73 202.5 562.80 203.0 566.30 203.5 569.16 204.0 571.02 204.5 573.67 205.0 576.09 205.5 577.22 206.0 579.31 206.5 579.98 207.0 580.39 207.5 582.26 208.0 583.08 208.5 584.91 209.0 585.02 209.5 586.85 210.0 588.10 210.5 587.60 211.0 587.72 211.5 587.65 212.0 588.44 212.5 589.64 213.0 590.93 213.5 590.60 214.0 589.65 214.5 590.94 215.0 590.54 215.5 592.36 216.0 592.52 216.5 591.92 217.0 591.09 217.5 592.30 218.0 591.87 218.5 591.97 219.0 592.45 219.5 591.93 220.0 593.27 220.5 594.09 221.0 594.52 221.5 593.69 222.0 594.05 222.5 595.68 223.0 595.62 223.5 593.89 224.0 595.40 224.5 596.02 225.0 595.22 225.5 596.21 226.0 595.67 226.5 595.37 227.0 595.27 227.5 596.90 228.0 595.25 228.5 593.50 229.0 594.78 229.5 595.64 230.0 595.88 230.5 597.69 231.0 596.44 231.5 596.62 232.0 597.35 232.5 597.68 233.0 596.21 233.5 595.80 234.0 596.77 234.5 598.09 235.0 597.95 235.5 598.40 236.0 597.88 236.5 599.03 237.0 598.86 237.5 598.76 238.0 599.17 238.5 599.20 239.0 598.91 239.5 597.93 240.0 599.10 240.5 599.26 241.0 599.72 241.5 599.65 242.0 599.35 242.5 600.21 243.0 601.15 243.5 600.55 244.0 600.09 244.5 600.32 245.0 600.85 245.5 599.84 246.0 600.11 246.5 599.81 247.0 599.32 247.5 601.02 248.0 601.39 248.5 600.53 249.0 600.65 249.5 601.56 250.0 602.37 250.5 601.50 251.0 602.77 251.5 602.17 252.0 599.84 252.5 600.84 253.0 601.56 253.5 601.34 254.0 602.19 254.5 601.94 255.0 601.87 255.5 601.07 256.0 600.11 256.5 601.35 257.0 600.93 257.5 602.13 258.0 602.49 258.5 604.13 259.0 602.24 259.5 600.80 260.0 603.43 260.5 602.88 261.0 603.21 261.5 603.15 262.0 601.33 262.5 601.21 263.0 602.37 263.5 601.07 264.0 600.36 264.5 601.27 265.0 602.02 265.5 602.63 266.0 601.86 266.5 601.71 267.0 602.55 267.5 602.65 268.0 602.81 268.5 601.89 269.0 603.68 269.5 602.09 270.0 603.35 270.5 603.35 271.0 602.10 271.5 602.31 272.0 602.31 272.5 603.26 273.0 603.57 273.5 602.92 274.0 602.81 274.5 602.39 275.0 603.39 275.5 603.46 276.0 602.63 276.5 602.24 277.0 603.42 277.5 602.28 278.0 602.25 278.5 602.33 279.0 603.10 279.5 602.82 280.0 601.91 280.5 602.34 281.0 602.68 281.5 604.16 282.0 605.51 282.5 605.25 283.0 605.16 283.5 604.72 284.0 603.08 284.5 602.70 285.0 602.46 285.5 604.00 286.0 603.57 286.5 602.76 287.0 603.64 287.5 603.64 288.0 604.16 288.5 603.33 289.0 602.94 289.5 603.36 290.0 603.58 290.5 604.15 291.0 603.35 291.5 603.15 292.0 603.37 292.5 602.50 293.0 603.06 293.5 603.92 294.0 603.15 294.5 604.19 295.0 603.26 295.5 603.40 296.0 604.02 296.5 603.60 297.0 602.37 297.5 602.17 298.0 603.39 298.5 602.86 299.0 603.36 299.5 604.09 300.0 603.53 300.5 603.03 301.0 602.74 301.5 604.05 302.0 605.51 302.5 603.16 303.0 602.37 303.5 603.43 304.0 604.67 304.5 603.78 305.0 603.67 305.5 603.79 306.0 603.81 306.5 602.91 307.0 602.68 307.5 603.97 308.0 605.12 308.5 602.83 309.0 603.37 309.5 603.58 310.0 603.55 310.5 603.86 311.0 603.57 311.5 604.37 312.0 603.20 312.5 602.64 313.0 603.68 313.5 604.94 314.0 606.45" fill="none" stroke="#02487f" stroke-width="2.2" stroke-linejoin="round"/>
<path d="M50.0 484.61 50.5 484.00 51.0 483.95 51.5 483.74 52.0 483.63 52.5 483.64 53.0 484.29 53.5 484.19 54.0 483.64 54.5 484.17 55.0 484.55 55.5 484.94 56.0 484.64 56.5 484.22 57.0 484.05 57.5 484.51 58.0 484.79 58.5 484.62 59.0 484.30 59.5 484.22 60.0 483.73 60.5 484.32 61.0 484.64 61.5 484.20 62.0 484.23 62.5 484.53 63.0 484.31 63.5 484.69 64.0 484.42 64.5 484.45 65.0 484.07 65.5 484.36 66.0 484.61 66.5 483.84 67.0 484.31 67.5 483.43 68.0 483.91 68.5 484.23 69.0 483.92 69.5 484.21 70.0 484.54 70.5 484.10 71.0 483.44 71.5 484.25 72.0 484.47 72.5 484.15 73.0 484.04 73.5 483.92 74.0 483.43 74.5 483.89 75.0 484.66 75.5 484.57 76.0 484.30 76.5 483.88 77.0 483.90 77.5 484.20 78.0 484.09 78.5 483.98 79.0 483.85 79.5 484.07 80.0 483.76 80.5 483.91 81.0 484.12 81.5 483.42 82.0 483.90 82.5 483.44 83.0 482.90 83.5 483.26 84.0 483.54 84.5 484.28 85.0 484.54 85.5 484.78 86.0 483.95 86.5 483.80 87.0 483.99 87.5 484.54 88.0 484.31 88.5 483.94 89.0 483.79 89.5 484.45 90.0 483.50 90.5 483.72 91.0 483.91 91.5 484.05 92.0 483.62 92.5 484.29 93.0 483.91 93.5 483.52 94.0 483.60 94.5 483.80 95.0 483.77 95.5 484.10 96.0 483.67 96.5 484.13 97.0 484.65 97.5 484.23 98.0 484.34 98.5 484.14 99.0 483.40 99.5 484.18 100.0 484.00 100.5 484.26 101.0 484.38 101.5 484.15 102.0 483.90 102.5 483.51 103.0 484.08 103.5 484.01 104.0 484.13 104.5 484.18 105.0 483.63 105.5 484.24 106.0 484.40 106.5 483.71 107.0 483.38 107.5 484.52 108.0 484.30 108.5 484.09 109.0 483.86 109.5 483.60 110.0 483.59 110.5 483.86 111.0 483.86 111.5 483.67 112.0 483.52 112.5 483.75 113.0 483.34 113.5 483.08 114.0 483.10 114.5 483.20 115.0 483.86 115.5 483.67 116.0 484.07 116.5 484.15 117.0 484.51 117.5 484.27 118.0 484.10 118.5 483.55 119.0 483.20 119.5 483.99 120.0 484.24 120.5 483.72 121.0 483.57 121.5 483.58 122.0 483.63 122.5 484.16 123.0 483.91 123.5 484.09 124.0 483.92 124.5 483.67 125.0 484.40 125.5 483.82 126.0 483.63 126.5 484.30 127.0 484.12 127.5 483.66 128.0 483.32 128.5 483.14 129.0 483.39 129.5 483.81 130.0 483.60 130.5 484.06 131.0 483.79 131.5 484.00 132.0 483.58 132.5 483.80 133.0 483.84 133.5 483.76 134.0 483.75 134.5 483.62 135.0 483.85 135.5 484.46 136.0 484.13 136.5 484.42 137.0 484.45 137.5 484.20 138.0 484.31 138.5 484.07 139.0 483.83 139.5 483.67 140.0 483.49 140.5 483.60 141.0 484.42 141.5 483.96 142.0 483.90 142.5 483.92 143.0 482.89 143.5 483.73 144.0 483.93 144.5 483.81 145.0 483.58 145.5 483.70 146.0 484.26 146.5 484.43 147.0 484.16 147.5 483.93 148.0 483.84 148.5 483.65 149.0 483.41 149.5 483.76 150.0 483.41 150.5 483.11 151.0 483.58 151.5 483.60 152.0 483.63 152.5 483.57 153.0 483.28 153.5 483.45 154.0 483.40 154.5 483.19 155.0 483.85 155.5 484.09 156.0 483.76 156.5 483.69 157.0 483.75 157.5 483.76 158.0 483.39 158.5 483.63 159.0 483.53 159.5 483.36 160.0 483.56 160.5 483.41 161.0 483.63 161.5 484.15 162.0 484.40 162.5 483.64 163.0 483.40 163.5 484.03 164.0 483.54 164.5 483.83 165.0 483.86 165.5 483.85 166.0 483.61 166.5 483.37 167.0 483.93 167.5 483.70 168.0 483.46 168.5 483.73 169.0 483.72 169.5 484.58 170.0 484.10 170.5 483.52 171.0 483.64 171.5 483.50 172.0 483.38 172.5 483.41 173.0 483.66 173.5 483.89 174.0 483.80 174.5 483.72 175.0 484.00 175.5 484.17 176.0 483.83 176.5 484.38 177.0 484.38 177.5 483.62 178.0 483.79 178.5 483.82 179.0 484.13 179.5 484.51 180.0 484.24 180.5 483.71 181.0 484.02 181.5 484.10 182.0 484.55 182.5 484.03 183.0 483.78 183.5 483.91 184.0 483.79 184.5 483.43 185.0 483.54 185.5 483.48 186.0 483.37 186.5 483.41 187.0 483.87 187.5 484.04 188.0 484.30 188.5 483.63 189.0 483.58 189.5 483.80 190.0 484.42 190.5 484.05 191.0 484.16 191.5 482.96 192.0 483.55 192.5 484.58 193.0 483.95 193.5 484.14 194.0 483.59 194.5 483.42 195.0 484.00 195.5 484.04 196.0 484.15 196.5 484.65 197.0 483.84 197.5 483.94 198.0 484.46 198.5 484.46 199.0 483.88 199.5 484.15 200.0 484.00 200.5 483.64 201.0 484.17 201.5 483.93 202.0 483.83 202.5 483.91 203.0 484.06 203.5 483.40 204.0 483.86 204.5 483.67 205.0 483.41 205.5 483.67 206.0 483.87 206.5 483.88 207.0 483.62 207.5 483.95 208.0 483.80 208.5 483.48 209.0 483.88 209.5 484.00 210.0 483.74 210.5 484.51 211.0 484.51 211.5 483.27 212.0 483.70 212.5 483.47 213.0 483.48 213.5 484.19 214.0 483.97 214.5 483.90 215.0 484.14 215.5 483.84 216.0 483.44 216.5 483.85 217.0 484.44 217.5 484.18 218.0 484.27 218.5 483.91 219.0 483.36 219.5 483.49 220.0 484.20 220.5 484.42 221.0 484.83 221.5 484.57 222.0 484.21 222.5 484.32 223.0 483.32 223.5 483.59 224.0 483.64 224.5 483.24 225.0 483.85 225.5 483.69 226.0 484.04 226.5 484.33 227.0 483.79 227.5 483.91 228.0 484.22 228.5 483.83 229.0 484.47 229.5 484.08 230.0 483.51 230.5 483.98 231.0 484.45 231.5 483.94 232.0 484.31 232.5 483.89 233.0 483.75 233.5 484.19 234.0 484.48 234.5 483.79 235.0 483.53 235.5 484.25 236.0 484.47 236.5 484.39 237.0 484.45 237.5 484.14 238.0 483.91 238.5 484.13 239.0 484.68 239.5 484.23 240.0 484.28 240.5 484.49 241.0 484.54 241.5 483.95 242.0 483.96 242.5 484.02 243.0 484.70 243.5 484.27 244.0 484.13 244.5 484.57 245.0 484.25 245.5 484.48 246.0 484.94 246.5 484.95 247.0 484.90 247.5 484.11 248.0 484.04 248.5 484.33 249.0 484.33 249.5 483.82 250.0 484.25 250.5 484.83 251.0 484.40 251.5 484.03 252.0 484.01 252.5 483.88 253.0 484.67 253.5 484.54 254.0 483.82 254.5 484.52 255.0 484.77 255.5 484.69 256.0 483.93 256.5 484.79 257.0 484.89 257.5 484.45 258.0 484.20 258.5 483.89 259.0 483.69 259.5 484.34 260.0 483.45 260.5 484.19 261.0 484.63 261.5 484.52 262.0 484.67 262.5 484.37 263.0 484.07 263.5 484.04 264.0 483.94 264.5 484.17 265.0 484.17 265.5 484.65 266.0 484.09 266.5 484.34 267.0 484.61 267.5 484.67 268.0 484.74 268.5 483.92 269.0 483.88 269.5 484.12 270.0 484.75 270.5 484.52 271.0 484.44 271.5 484.81 272.0 484.59 272.5 483.99 273.0 484.42 273.5 484.75 274.0 485.17 274.5 484.90 275.0 484.75 275.5 484.62 276.0 484.11 276.5 483.88 277.0 484.23 277.5 485.01 278.0 484.67 278.5 484.35 279.0 483.62 279.5 484.27 280.0 484.36 280.5 484.11 281.0 484.31 281.5 484.81 282.0 484.51 282.5 484.11 283.0 484.39 283.5 484.53 284.0 484.46 284.5 484.77 285.0 485.15 285.5 484.82 286.0 483.96 286.5 484.12 287.0 484.53 287.5 484.97 288.0 485.19 288.5 484.92 289.0 484.73 289.5 485.25 290.0 485.39 290.5 484.45 291.0 484.56 291.5 484.84 292.0 484.88 292.5 485.02 293.0 485.23 293.5 484.87 294.0 484.62 294.5 485.19 295.0 485.10 295.5 485.02 296.0 484.19 296.5 484.69 297.0 485.61 297.5 484.47 298.0 484.18 298.5 484.87 299.0 485.19 299.5 484.54 300.0 484.77 300.5 485.01 301.0 485.05 301.5 485.39 302.0 485.77 302.5 485.27 303.0 485.15 303.5 485.71 304.0 485.58 304.5 484.98 305.0 485.08 305.5 485.34 306.0 485.67 306.5 485.49 307.0 485.14 307.5 485.19 308.0 484.79 308.5 485.01 309.0 485.42 309.5 485.17 310.0 485.36 310.5 485.52 311.0 485.16 311.5 485.58 312.0 484.53 312.5 484.81 313.0 485.58 313.5 485.59 314.0 485.03" fill="none" stroke="#2eac48" stroke-width="2.2" stroke-linejoin="round"/>
<path d="M60.3 494.8 L64.3 494.8 L62.3 491.2 Z" fill="#231f20"/>
<text transform="translate(245.2 480.4) scale(1.0000 1)" font-size="9.88" fill="#2eac48" stroke="#2eac48" stroke-width="0.06">+ Integrilin 9μM</text>
<text transform="translate(259.98 496.7) scale(1.0000 1)" font-size="10.21" fill="#c8102e" stroke="#c8102e" stroke-width="0.06">+ ARC 1μM</text>
<text transform="translate(231.29 522.8) scale(1.0000 1)" font-size="10.04" fill="#000" stroke="#000" stroke-width="0.06">+ Aspirin 30μM</text>
<text transform="translate(252.16 616.7) scale(1.0000 1)" font-size="10.05" fill="#02487f" stroke="#02487f" stroke-width="0.06">BDNF 370nM</text>
<text transform="translate(324.29 470.1) scale(1.2535 1)" font-size="12.97" font-weight="bold" fill="#000" stroke="#000" stroke-width="0.45">F</text>
<text transform="translate(335.5 579.85) rotate(-90) scale(0.6333 1)" x="-0.47" font-size="13.2" fill="#000" stroke="#000" stroke-width="0.2">% Aggregation</text>
<path d="M372.5 614.7 V605.5 H390.5 V614.7" fill="none" stroke="#e5168c" stroke-width="1.5" stroke-linejoin="miter"/>
<line x1="381.2" y1="602.7" x2="381.2" y2="608.6" stroke="#e5168c" stroke-width="1.4"/>
<line x1="376.9" y1="602.7" x2="385.5" y2="602.7" stroke="#e5168c" stroke-width="1.4"/>
<line x1="376.9" y1="608.6" x2="385.5" y2="608.6" stroke="#e5168c" stroke-width="1.4"/>
<circle cx="381.2" cy="599.7" r="2.0" fill="#e5168c"/>
<circle cx="377.4" cy="604.8" r="2.0" fill="#e5168c"/>
<circle cx="385" cy="604.3" r="2.0" fill="#e5168c"/>
<circle cx="377.4" cy="609.9" r="2.0" fill="#e5168c"/>
<circle cx="385.2" cy="608.6" r="2.0" fill="#e5168c"/>
<path d="M400.5 614.7 V507.5 H417.5 V614.7" fill="none" stroke="#02487f" stroke-width="1.5" stroke-linejoin="miter"/>
<line x1="408.9" y1="504.7" x2="408.9" y2="517.3" stroke="#02487f" stroke-width="1.4"/>
<line x1="404.4" y1="504.7" x2="413.4" y2="504.7" stroke="#02487f" stroke-width="1.4"/>
<line x1="404.4" y1="517.3" x2="413.4" y2="517.3" stroke="#02487f" stroke-width="1.4"/>
<rect x="407.1" y="500" width="3.6" height="3.6" fill="#02487f"/>
<rect x="403.5" y="504" width="3.6" height="3.6" fill="#02487f"/>
<rect x="410.7" y="504" width="3.6" height="3.6" fill="#02487f"/>
<rect x="407.1" y="512.7" width="3.6" height="3.6" fill="#02487f"/>
<rect x="407.1" y="517.7" width="3.6" height="3.6" fill="#02487f"/>
<path d="M427.5 614.7 V589.5 H445.5 V614.7" fill="none" stroke="#231f20" stroke-width="1.5" stroke-linejoin="miter"/>
<line x1="436.4" y1="564.3" x2="436.4" y2="596.6" stroke="#231f20" stroke-width="1.4"/>
<line x1="432.1" y1="564.3" x2="440.7" y2="564.3" stroke="#231f20" stroke-width="1.4"/>
<line x1="432.1" y1="596.6" x2="440.7" y2="596.6" stroke="#231f20" stroke-width="1.4"/>
<path d="M434.5 552.01 L438.3 552.01 L436.4 548.59 Z" fill="#231f20"/>
<path d="M434.5 580.91 L438.3 580.91 L436.4 577.49 Z" fill="#231f20"/>
<path d="M431.1 600.01 L434.9 600.01 L433 596.59 Z" fill="#231f20"/>
<path d="M438.1 597.01 L441.9 597.01 L440 593.59 Z" fill="#231f20"/>
<path d="M454.5 614.7 V603.5 H473.5 V614.7" fill="none" stroke="#c8102e" stroke-width="1.5" stroke-linejoin="miter"/>
<line x1="463.7" y1="584.3" x2="463.7" y2="608.6" stroke="#c8102e" stroke-width="1.4"/>
<line x1="459" y1="584.3" x2="468.4" y2="584.3" stroke="#c8102e" stroke-width="1.4"/>
<line x1="459" y1="608.6" x2="468.4" y2="608.6" stroke="#c8102e" stroke-width="1.4"/>
<path d="M461.7 576.3 L465.7 576.3 L463.7 579.9 Z" fill="#c8102e"/>
<path d="M461.7 587.1 L465.7 587.1 L463.7 590.7 Z" fill="#c8102e"/>
<path d="M461.7 599.8 L465.7 599.8 L463.7 603.4 Z" fill="#c8102e"/>
<path d="M457.9 608.1 L461.9 608.1 L459.9 611.7 Z" fill="#c8102e"/>
<path d="M465.6 604.9 L469.6 604.9 L467.6 608.5 Z" fill="#c8102e"/>
<path d="M482.5 614.7 V612.5 H499.5 V614.7" fill="none" stroke="#2eac48" stroke-width="1.5" stroke-linejoin="miter"/>
<path d="M484.5 610.2 L486.4 612.1 L484.5 614 L482.6 612.1 Z" fill="#2eac48"/>
<path d="M488.5 610.2 L490.4 612.1 L488.5 614 L486.6 612.1 Z" fill="#2eac48"/>
<path d="M492 610.2 L493.9 612.1 L492 614 L490.1 612.1 Z" fill="#2eac48"/>
<path d="M495.5 610.2 L497.4 612.1 L495.5 614 L493.6 612.1 Z" fill="#2eac48"/>
<path d="M498.5 610.2 L500.4 612.1 L498.5 614 L496.6 612.1 Z" fill="#2eac48"/>
<line x1="484" y1="612.1" x2="499" y2="612.1" stroke="#2eac48" stroke-width="1.2"/>
<line x1="362.3" y1="615.45" x2="362.3" y2="489.6" stroke="#231f20" stroke-width="1.6"/>
<line x1="358" y1="614.7" x2="362.3" y2="614.7" stroke="#231f20" stroke-width="1.2"/>
<text transform="translate(349.05 617.35) scale(1.190 1)" x="0" font-size="9.03" fill="#000" stroke="#000" stroke-width="0.06">0</text>
<line x1="358" y1="589.68" x2="362.3" y2="589.68" stroke="#231f20" stroke-width="1.2"/>
<text transform="translate(343.07 592.33) scale(1.190 1)" x="0" font-size="9.03" fill="#000" stroke="#000" stroke-width="0.06">20</text>
<line x1="358" y1="564.66" x2="362.3" y2="564.66" stroke="#231f20" stroke-width="1.2"/>
<text transform="translate(343.07 567.31) scale(1.190 1)" x="0" font-size="9.03" fill="#000" stroke="#000" stroke-width="0.06">40</text>
<line x1="358" y1="539.64" x2="362.3" y2="539.64" stroke="#231f20" stroke-width="1.2"/>
<text transform="translate(343.07 542.29) scale(1.190 1)" x="0" font-size="9.03" fill="#000" stroke="#000" stroke-width="0.06">60</text>
<line x1="358" y1="514.62" x2="362.3" y2="514.62" stroke="#231f20" stroke-width="1.2"/>
<text transform="translate(343.07 517.27) scale(1.190 1)" x="0" font-size="9.03" fill="#000" stroke="#000" stroke-width="0.06">80</text>
<line x1="358" y1="489.6" x2="362.3" y2="489.6" stroke="#231f20" stroke-width="1.2"/>
<text transform="translate(337.1 492.25) scale(1.190 1)" x="0" font-size="9.03" fill="#000" stroke="#000" stroke-width="0.06">100</text>
<line x1="361.5" y1="614.7" x2="500.7" y2="614.7" stroke="#231f20" stroke-width="1.6"/>
<line x1="381.5" y1="614.7" x2="381.5" y2="619.6" stroke="#231f20" stroke-width="1.2"/>
<line x1="408.9" y1="614.7" x2="408.9" y2="619.6" stroke="#231f20" stroke-width="1.2"/>
<line x1="436.3" y1="614.7" x2="436.3" y2="619.6" stroke="#231f20" stroke-width="1.2"/>
<line x1="464" y1="614.7" x2="464" y2="619.6" stroke="#231f20" stroke-width="1.2"/>
<line x1="491.1" y1="614.7" x2="491.1" y2="619.6" stroke="#231f20" stroke-width="1.2"/>
<text transform="translate(387.1 626.6) rotate(-45) scale(1.0800 1)" x="-30.41" font-size="9.4" fill="#000" stroke="#000" stroke-width="0.06">Vehicle</text>
<text transform="translate(414.5 626.6) rotate(-45) scale(1.0800 1)" x="-56.17" font-size="9.4" fill="#000" stroke="#000" stroke-width="0.06">BDNF 370nM</text>
<text transform="translate(441.9 626.6) rotate(-45) scale(1.0800 1)" x="-59.76" font-size="9.4" fill="#000" stroke="#000" stroke-width="0.06">+Aspirin 30μM</text>
<text transform="translate(469.6 626.6) rotate(-45) scale(1.0800 1)" x="-74.92" font-size="9.4" fill="#000" stroke="#000" stroke-width="0.06">+AR-C66096 1μM</text>
<text transform="translate(496.7 626.6) rotate(-45) scale(1.0800 1)" x="-61.33" font-size="9.4" fill="#000" stroke="#000" stroke-width="0.06">+Integrilin 9μM</text>
</g>
<rect x="0.75" y="0.75" width="518.5" height="691.5" fill="none" stroke="#000" stroke-width="1.5"/>
</svg></body></html>
